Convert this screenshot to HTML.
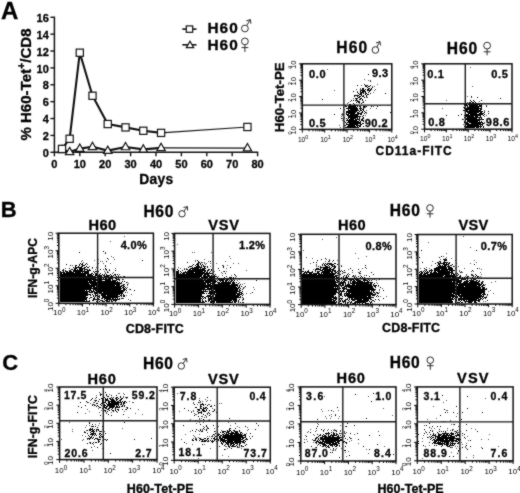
<!DOCTYPE html>
<html><head><meta charset="utf-8"><style>
html,body{margin:0;padding:0;background:#fff;overflow:hidden;}
svg{display:block;}
text{font-family:"Liberation Sans", sans-serif;fill:#000;}
text[font-weight="bold"]{stroke:#000;stroke-width:0.3px;}
</style></head><body>
<svg width="520" height="493" viewBox="0 0 520 493">
<defs><filter id="soft"><feOffset dx="0" dy="0"/></filter><filter id="glob" x="0" y="0" width="520" height="493" filterUnits="userSpaceOnUse" color-interpolation-filters="sRGB"><feConvolveMatrix order="3" kernelMatrix="1 2 1 2 16 2 1 2 1" divisor="28" edgeMode="duplicate"/></filter></defs>
<g filter="url(#glob)">
<rect width="520" height="493" fill="#fff"/>
<text x="0.89" y="18.7" font-size="24" font-weight="bold" textLength="18.77" lengthAdjust="spacing">A</text>
<line x1="54.4" y1="16.660000000000018" x2="54.4" y2="152.9" stroke="#111" stroke-width="1.5"/>
<line x1="53.8" y1="152.3" x2="258.2" y2="152.3" stroke="#111" stroke-width="1.5"/>
<line x1="50.4" y1="152.3" x2="54.4" y2="152.3" stroke="#111" stroke-width="1.4"/>
<text x="48.8" y="156.9" font-size="11" font-weight="bold" text-anchor="end">0</text>
<line x1="50.4" y1="135.42000000000002" x2="54.4" y2="135.42000000000002" stroke="#111" stroke-width="1.4"/>
<text x="48.8" y="140.02" font-size="11" font-weight="bold" text-anchor="end">2</text>
<line x1="50.4" y1="118.54000000000002" x2="54.4" y2="118.54000000000002" stroke="#111" stroke-width="1.4"/>
<text x="48.8" y="123.14000000000001" font-size="11" font-weight="bold" text-anchor="end">4</text>
<line x1="50.4" y1="101.66000000000001" x2="54.4" y2="101.66000000000001" stroke="#111" stroke-width="1.4"/>
<text x="48.8" y="106.26" font-size="11" font-weight="bold" text-anchor="end">6</text>
<line x1="50.4" y1="84.78000000000002" x2="54.4" y2="84.78000000000002" stroke="#111" stroke-width="1.4"/>
<text x="48.8" y="89.38000000000001" font-size="11" font-weight="bold" text-anchor="end">8</text>
<line x1="50.4" y1="67.90000000000002" x2="54.4" y2="67.90000000000002" stroke="#111" stroke-width="1.4"/>
<text x="48.8" y="72.50000000000001" font-size="11" font-weight="bold" text-anchor="end">10</text>
<line x1="50.4" y1="51.02000000000001" x2="54.4" y2="51.02000000000001" stroke="#111" stroke-width="1.4"/>
<text x="48.8" y="55.62000000000001" font-size="11" font-weight="bold" text-anchor="end">12</text>
<line x1="50.4" y1="34.140000000000015" x2="54.4" y2="34.140000000000015" stroke="#111" stroke-width="1.4"/>
<text x="48.8" y="38.740000000000016" font-size="11" font-weight="bold" text-anchor="end">14</text>
<line x1="50.4" y1="17.26000000000002" x2="54.4" y2="17.26000000000002" stroke="#111" stroke-width="1.4"/>
<text x="48.8" y="21.86000000000002" font-size="11" font-weight="bold" text-anchor="end">16</text>
<line x1="54.4" y1="152.3" x2="54.4" y2="156.3" stroke="#111" stroke-width="1.4"/>
<text x="54.4" y="168.3" font-size="11" font-weight="bold" text-anchor="middle">0</text>
<line x1="79.8" y1="152.3" x2="79.8" y2="156.3" stroke="#111" stroke-width="1.4"/>
<text x="79.8" y="168.3" font-size="11" font-weight="bold" text-anchor="middle">10</text>
<line x1="105.19999999999999" y1="152.3" x2="105.19999999999999" y2="156.3" stroke="#111" stroke-width="1.4"/>
<text x="105.19999999999999" y="168.3" font-size="11" font-weight="bold" text-anchor="middle">20</text>
<line x1="130.6" y1="152.3" x2="130.6" y2="156.3" stroke="#111" stroke-width="1.4"/>
<text x="130.6" y="168.3" font-size="11" font-weight="bold" text-anchor="middle">30</text>
<line x1="156.0" y1="152.3" x2="156.0" y2="156.3" stroke="#111" stroke-width="1.4"/>
<text x="156.0" y="168.3" font-size="11" font-weight="bold" text-anchor="middle">40</text>
<line x1="181.4" y1="152.3" x2="181.4" y2="156.3" stroke="#111" stroke-width="1.4"/>
<text x="181.4" y="168.3" font-size="11" font-weight="bold" text-anchor="middle">50</text>
<line x1="206.8" y1="152.3" x2="206.8" y2="156.3" stroke="#111" stroke-width="1.4"/>
<text x="206.8" y="168.3" font-size="11" font-weight="bold" text-anchor="middle">60</text>
<line x1="232.20000000000002" y1="152.3" x2="232.20000000000002" y2="156.3" stroke="#111" stroke-width="1.4"/>
<text x="232.20000000000002" y="168.3" font-size="11" font-weight="bold" text-anchor="middle">70</text>
<line x1="257.59999999999997" y1="152.3" x2="257.59999999999997" y2="156.3" stroke="#111" stroke-width="1.4"/>
<text x="257.59999999999997" y="168.3" font-size="11" font-weight="bold" text-anchor="middle">80</text>
<text x="139.25" y="184" font-size="13.8" font-weight="bold" textLength="33.90" lengthAdjust="spacing">Days</text>
<text transform="translate(30.8 140.5) rotate(-90)" font-size="14" font-weight="bold" textLength="112" lengthAdjust="spacingAndGlyphs">% H60-Tet<tspan dy="-5.5" font-size="10">+</tspan><tspan dy="5.5">/CD8</tspan></text>
<polyline points="62.02,149.77 69.64,151.88 79.80,148.59 92.50,146.81 107.74,150.61 125.52,146.98 143.30,149.35 161.08,147.83" fill="none" stroke="#111" stroke-width="2.1" stroke-linejoin="round"/>
<polyline points="161.08,147.83 247.44,148.08" fill="none" stroke="#111" stroke-width="1.1" stroke-linejoin="round"/>
<polyline points="62.02,148.92 69.64,138.80 79.80,52.71 92.50,95.75 107.74,124.03 125.52,127.40 143.30,130.78 161.08,132.89" fill="none" stroke="#111" stroke-width="2.1" stroke-linejoin="round"/>
<polyline points="161.08,132.89 247.44,126.98" fill="none" stroke="#111" stroke-width="1.1" stroke-linejoin="round"/>
<path d="M62.019999999999996 145.24 L66.22 152.55 L57.82 152.55 Z" fill="#fff" stroke="#111" stroke-width="1.2"/>
<path d="M69.64 147.35 L73.84 154.66 L65.44 154.66 Z" fill="#fff" stroke="#111" stroke-width="1.2"/>
<path d="M79.8 144.06 L84.00 151.36 L75.60 151.36 Z" fill="#fff" stroke="#111" stroke-width="1.2"/>
<path d="M92.5 142.28 L96.70 149.59 L88.30 149.59 Z" fill="#fff" stroke="#111" stroke-width="1.2"/>
<path d="M107.74000000000001 146.08 L111.94 153.39 L103.54 153.39 Z" fill="#fff" stroke="#111" stroke-width="1.2"/>
<path d="M125.52000000000001 142.45 L129.72 149.76 L121.32 149.76 Z" fill="#fff" stroke="#111" stroke-width="1.2"/>
<path d="M143.3 144.82 L147.50 152.12 L139.10 152.12 Z" fill="#fff" stroke="#111" stroke-width="1.2"/>
<path d="M161.08 143.30 L165.28 150.60 L156.88 150.60 Z" fill="#fff" stroke="#111" stroke-width="1.2"/>
<path d="M247.44 143.55 L251.64 150.86 L243.24 150.86 Z" fill="#fff" stroke="#111" stroke-width="1.2"/>
<rect x="58.42" y="145.32" width="7.2" height="7.2" fill="#fff" stroke="#111" stroke-width="1.2"/>
<rect x="66.04" y="135.20" width="7.2" height="7.2" fill="#fff" stroke="#111" stroke-width="1.2"/>
<rect x="76.20" y="49.11" width="7.2" height="7.2" fill="#fff" stroke="#111" stroke-width="1.2"/>
<rect x="88.90" y="92.15" width="7.2" height="7.2" fill="#fff" stroke="#111" stroke-width="1.2"/>
<rect x="104.14" y="120.43" width="7.2" height="7.2" fill="#fff" stroke="#111" stroke-width="1.2"/>
<rect x="121.92" y="123.80" width="7.2" height="7.2" fill="#fff" stroke="#111" stroke-width="1.2"/>
<rect x="139.70" y="127.18" width="7.2" height="7.2" fill="#fff" stroke="#111" stroke-width="1.2"/>
<rect x="157.48" y="129.29" width="7.2" height="7.2" fill="#fff" stroke="#111" stroke-width="1.2"/>
<rect x="243.84" y="123.38" width="7.2" height="7.2" fill="#fff" stroke="#111" stroke-width="1.2"/>
<line x1="182.3" y1="29.1" x2="196.5" y2="29.1" stroke="#111" stroke-width="1.6"/>
<rect x="186.30" y="25.90" width="6.4" height="6.4" fill="#fff" stroke="#111" stroke-width="1.2"/>
<line x1="182.3" y1="44.8" x2="196.5" y2="44.8" stroke="#111" stroke-width="1.6"/>
<path d="M190 41.21 L193.70 47.65 L186.30 47.65 Z" fill="#fff" stroke="#111" stroke-width="1.2"/>
<text x="207.38" y="33.2" font-size="15.4" font-weight="bold" textLength="30.43" lengthAdjust="spacing">H60</text>
<text x="207.38" y="49.5" font-size="15.4" font-weight="bold" textLength="30.43" lengthAdjust="spacing">H60</text>
<circle cx="244.9" cy="28.5" r="3.4" fill="none" stroke="#2a2a2a" stroke-width="1.0"/>
<path d="M246.66 25.59L250.3 19.6M246.28 20.97L250.3 19.6L250.95 23.80" fill="none" stroke="#2a2a2a" stroke-width="1.0"/>
<circle cx="244.9" cy="41.4" r="3.4" fill="none" stroke="#2a2a2a" stroke-width="1.0"/>
<path d="M244.9 44.8L244.9 52.0M241.5 47.6L248.3 47.6" fill="none" stroke="#2a2a2a" stroke-width="1.0"/>
<g filter="url(#soft)">
<path d="M327 69h1v1h-1zM364 79h1v1h-1zM368 80h1v1h-1zM370 80h1v1h-1zM377 84h1v1h-1zM361 85h1v1h-1zM366 85h1v1h-1zM372 86h1v1h-1zM374 86h1v1h-1zM360 88h1v1h-1zM356 89h1v1h-1zM360 89h1v1h-1zM375 89h1v1h-1zM334 90h1v1h-1zM374 90h1v1h-1zM357 91h1v1h-1zM373 92h1v1h-1zM366 97h2v1h-2zM353 98h1v1h-1zM365 100h1v1h-1zM350 101h1v1h-1zM363 101h1v1h-1zM348 102h1v1h-1zM362 102h1v1h-1zM347 103h1v1h-1zM359 103h1v1h-1zM345 105h1v1h-1zM380 105h1v1h-1zM388 105h1v1h-1zM365 106h1v1h-1zM373 106h1v1h-1zM343 107h1v1h-1zM365 107h1v1h-1zM370 108h1v1h-1zM376 108h1v1h-1zM344 109h1v1h-1zM366 110h1v1h-1zM343 111h1v1h-1zM366 112h1v1h-1zM342 113h1v1h-1zM366 113h1v1h-1zM341 114h2v1h-2zM342 115h1v1h-1zM365 115h1v1h-1zM341 116h1v1h-1zM344 117h1v1h-1zM342 118h1v1h-1zM344 118h1v1h-1zM342 120h1v1h-1zM339 125h1v1h-1zM344 125h1v1h-1zM340 127h1v1h-1z" fill="#555"/>
<path d="M368 74h1v1h-1zM370 81h1v1h-1zM364 84h1v1h-1zM357 85h1v1h-1zM365 85h1v1h-1zM367 85h1v1h-1zM370 85h1v1h-1zM365 86h2v1h-2zM368 86h2v1h-2zM367 87h1v1h-1zM372 87h1v1h-1zM362 88h2v1h-2zM368 88h2v1h-2zM371 88h1v1h-1zM362 89h2v1h-2zM365 89h1v1h-1zM367 89h2v1h-2zM370 89h2v1h-2zM360 90h5v1h-5zM367 90h4v1h-4zM353 91h1v1h-1zM360 91h1v1h-1zM362 91h4v1h-4zM369 91h1v1h-1zM357 92h1v1h-1zM360 92h4v1h-4zM365 92h1v1h-1zM368 92h1v1h-1zM358 93h1v1h-1zM360 93h2v1h-2zM363 93h1v1h-1zM365 93h2v1h-2zM370 93h1v1h-1zM385 93h1v1h-1zM359 94h3v1h-3zM365 94h1v1h-1zM367 94h2v1h-2zM354 95h5v1h-5zM361 95h1v1h-1zM363 95h1v1h-1zM366 95h1v1h-1zM354 96h1v1h-1zM357 96h1v1h-1zM359 96h2v1h-2zM362 96h2v1h-2zM366 96h1v1h-1zM358 97h2v1h-2zM364 97h1v1h-1zM355 98h3v1h-3zM360 98h2v1h-2zM322 99h1v1h-1zM356 99h1v1h-1zM359 99h2v1h-2zM362 99h1v1h-1zM351 100h1v1h-1zM353 100h1v1h-1zM355 100h3v1h-3zM362 100h1v1h-1zM357 101h3v1h-3zM356 102h1v1h-1zM358 102h2v1h-2zM363 102h1v1h-1zM353 103h1v1h-1zM361 103h1v1h-1zM349 104h2v1h-2zM354 104h1v1h-1zM349 105h9v1h-9zM345 106h2v1h-2zM348 106h8v1h-8zM357 106h1v1h-1zM359 106h2v1h-2zM363 106h2v1h-2zM366 106h1v1h-1zM371 106h1v1h-1zM377 106h1v1h-1zM348 107h9v1h-9zM360 107h1v1h-1zM363 107h2v1h-2zM340 108h1v1h-1zM346 108h12v1h-12zM359 108h3v1h-3zM363 108h1v1h-1zM348 109h1v1h-1zM350 109h8v1h-8zM360 109h1v1h-1zM362 109h2v1h-2zM348 110h11v1h-11zM360 110h2v1h-2zM363 110h1v1h-1zM346 111h11v1h-11zM359 111h1v1h-1zM362 111h1v1h-1zM364 111h1v1h-1zM346 112h10v1h-10zM357 112h2v1h-2zM361 112h2v1h-2zM365 112h1v1h-1zM390 112h1v1h-1zM346 113h1v1h-1zM348 113h7v1h-7zM357 113h5v1h-5zM364 113h1v1h-1zM334 114h1v1h-1zM343 114h1v1h-1zM346 114h3v1h-3zM350 114h9v1h-9zM360 114h2v1h-2zM347 115h11v1h-11zM363 115h1v1h-1zM348 116h13v1h-13zM362 116h1v1h-1zM348 117h10v1h-10zM359 117h1v1h-1zM363 117h1v1h-1zM341 118h1v1h-1zM346 118h1v1h-1zM348 118h1v1h-1zM350 118h6v1h-6zM357 118h1v1h-1zM359 118h1v1h-1zM362 118h2v1h-2zM343 119h1v1h-1zM347 119h1v1h-1zM349 119h5v1h-5zM355 119h5v1h-5zM361 119h2v1h-2zM346 120h11v1h-11zM359 120h1v1h-1zM361 120h3v1h-3zM344 121h1v1h-1zM348 121h11v1h-11zM360 121h1v1h-1zM363 121h1v1h-1zM345 122h1v1h-1zM347 122h14v1h-14zM346 123h1v1h-1zM349 123h12v1h-12zM362 123h2v1h-2zM346 124h12v1h-12zM360 124h2v1h-2zM345 125h1v1h-1zM348 125h7v1h-7zM356 125h5v1h-5zM347 126h9v1h-9zM357 126h1v1h-1zM359 126h2v1h-2zM363 126h1v1h-1zM345 127h14v1h-14z" fill="#000"/>
</g>
<g filter="url(#soft)">
<path d="M470 67h1v1h-1zM472 86h1v1h-1zM467 96h1v1h-1zM471 97h1v1h-1zM446 100h1v1h-1zM479 101h1v1h-1zM467 102h1v1h-1zM486 105h1v1h-1zM463 107h1v1h-1zM442 108h1v1h-1zM484 110h1v1h-1zM484 111h1v1h-1zM486 115h1v1h-1zM484 116h1v1h-1zM463 119h1v1h-1zM484 122h1v1h-1zM484 123h1v1h-1zM463 124h1v1h-1z" fill="#555"/>
<path d="M471 96h1v1h-1zM477 97h1v1h-1zM500 98h1v1h-1zM470 100h1v1h-1zM473 100h1v1h-1zM481 100h1v1h-1zM471 101h1v1h-1zM474 101h1v1h-1zM469 102h2v1h-2zM472 102h2v1h-2zM475 102h1v1h-1zM463 103h1v1h-1zM468 103h8v1h-8zM478 103h2v1h-2zM482 103h1v1h-1zM464 104h1v1h-1zM466 104h1v1h-1zM468 104h12v1h-12zM481 104h1v1h-1zM464 105h1v1h-1zM466 105h2v1h-2zM469 105h9v1h-9zM479 105h3v1h-3zM467 106h1v1h-1zM469 106h13v1h-13zM486 106h1v1h-1zM464 107h2v1h-2zM467 107h12v1h-12zM481 107h1v1h-1zM464 108h1v1h-1zM466 108h16v1h-16zM466 109h13v1h-13zM480 109h2v1h-2zM463 110h2v1h-2zM466 110h2v1h-2zM469 110h12v1h-12zM465 111h18v1h-18zM488 111h1v1h-1zM467 112h12v1h-12zM480 112h2v1h-2zM484 112h1v1h-1zM468 113h9v1h-9zM479 113h5v1h-5zM488 113h1v1h-1zM461 114h1v1h-1zM465 114h4v1h-4zM470 114h13v1h-13zM484 114h1v1h-1zM446 115h1v1h-1zM458 115h1v1h-1zM464 115h1v1h-1zM466 115h15v1h-15zM483 115h1v1h-1zM466 116h8v1h-8zM475 116h3v1h-3zM480 116h1v1h-1zM464 117h2v1h-2zM467 117h15v1h-15zM466 118h11v1h-11zM479 118h1v1h-1zM481 118h1v1h-1zM462 119h1v1h-1zM465 119h19v1h-19zM465 120h1v1h-1zM467 120h13v1h-13zM464 121h1v1h-1zM467 121h11v1h-11zM479 121h1v1h-1zM481 121h1v1h-1zM464 122h1v1h-1zM466 122h2v1h-2zM469 122h14v1h-14zM465 123h4v1h-4zM471 123h10v1h-10zM482 123h2v1h-2zM466 124h17v1h-17zM467 125h12v1h-12zM480 125h1v1h-1zM482 125h1v1h-1zM464 126h1v1h-1zM466 126h16v1h-16zM483 126h1v1h-1zM465 127h10v1h-10zM476 127h3v1h-3zM480 127h1v1h-1zM483 127h1v1h-1z" fill="#000"/>
</g>
<g filter="url(#soft)">
<path d="M124 236h1v1h-1zM110 241h1v1h-1zM105 252h1v1h-1zM111 256h1v1h-1zM113 257h1v1h-1zM98 259h1v1h-1zM108 259h1v1h-1zM114 259h1v1h-1zM82 260h1v1h-1zM94 260h1v1h-1zM81 261h1v1h-1zM100 261h1v1h-1zM102 261h1v1h-1zM83 262h1v1h-1zM98 263h1v1h-1zM103 263h1v1h-1zM110 263h1v1h-1zM87 264h1v1h-1zM72 265h1v1h-1zM105 265h1v1h-1zM89 266h1v1h-1zM96 267h1v1h-1zM65 268h1v1h-1zM92 268h1v1h-1zM115 268h1v1h-1zM95 269h1v1h-1zM103 269h1v1h-1zM105 269h1v1h-1zM109 269h1v1h-1zM106 270h1v1h-1zM104 271h1v1h-1zM107 271h1v1h-1zM105 272h1v1h-1zM108 272h1v1h-1zM113 272h1v1h-1zM105 273h1v1h-1zM112 273h1v1h-1zM119 274h1v1h-1zM118 275h1v1h-1zM120 276h1v1h-1zM123 276h1v1h-1zM121 277h1v1h-1zM123 279h1v1h-1zM127 282h1v1h-1zM128 283h1v1h-1zM127 285h1v1h-1zM127 287h1v1h-1zM129 289h1v1h-1zM127 292h1v1h-1zM131 294h1v1h-1zM126 295h1v1h-1zM123 298h1v1h-1zM128 299h1v1h-1z" fill="#555"/>
<path d="M103 251h1v1h-1zM79 252h1v1h-1zM105 253h1v1h-1zM107 258h1v1h-1zM142 260h1v1h-1zM106 261h1v1h-1zM80 263h1v1h-1zM82 263h1v1h-1zM86 263h1v1h-1zM66 264h1v1h-1zM79 264h1v1h-1zM81 264h2v1h-2zM85 264h1v1h-1zM70 265h1v1h-1zM75 265h2v1h-2zM79 265h1v1h-1zM82 265h3v1h-3zM75 266h1v1h-1zM78 266h1v1h-1zM81 266h2v1h-2zM86 266h1v1h-1zM105 266h1v1h-1zM73 267h1v1h-1zM75 267h7v1h-7zM84 267h2v1h-2zM87 267h2v1h-2zM92 267h1v1h-1zM69 268h1v1h-1zM74 268h3v1h-3zM79 268h6v1h-6zM105 268h1v1h-1zM63 269h1v1h-1zM71 269h2v1h-2zM74 269h2v1h-2zM77 269h1v1h-1zM79 269h4v1h-4zM84 269h4v1h-4zM89 269h1v1h-1zM100 269h1v1h-1zM106 269h1v1h-1zM62 270h2v1h-2zM65 270h1v1h-1zM69 270h2v1h-2zM73 270h10v1h-10zM84 270h1v1h-1zM87 270h4v1h-4zM109 270h1v1h-1zM115 270h1v1h-1zM60 271h1v1h-1zM63 271h1v1h-1zM65 271h3v1h-3zM69 271h3v1h-3zM73 271h16v1h-16zM93 271h1v1h-1zM95 271h4v1h-4zM60 272h5v1h-5zM66 272h8v1h-8zM75 272h6v1h-6zM82 272h1v1h-1zM84 272h5v1h-5zM94 272h1v1h-1zM107 272h1v1h-1zM60 273h2v1h-2zM63 273h26v1h-26zM91 273h2v1h-2zM95 273h2v1h-2zM100 273h1v1h-1zM60 274h26v1h-26zM87 274h5v1h-5zM93 274h1v1h-1zM95 274h3v1h-3zM99 274h1v1h-1zM102 274h1v1h-1zM104 274h1v1h-1zM106 274h1v1h-1zM110 274h1v1h-1zM114 274h2v1h-2zM117 274h1v1h-1zM60 275h26v1h-26zM87 275h6v1h-6zM95 275h7v1h-7zM103 275h2v1h-2zM106 275h4v1h-4zM111 275h1v1h-1zM113 275h1v1h-1zM115 275h1v1h-1zM60 276h36v1h-36zM97 276h5v1h-5zM104 276h5v1h-5zM110 276h3v1h-3zM116 276h1v1h-1zM118 276h1v1h-1zM124 276h1v1h-1zM60 277h32v1h-32zM93 277h3v1h-3zM97 277h2v1h-2zM101 277h3v1h-3zM105 277h1v1h-1zM109 277h5v1h-5zM115 277h4v1h-4zM120 277h1v1h-1zM60 278h36v1h-36zM97 278h5v1h-5zM103 278h1v1h-1zM105 278h2v1h-2zM108 278h5v1h-5zM115 278h2v1h-2zM118 278h1v1h-1zM60 279h51v1h-51zM112 279h1v1h-1zM116 279h4v1h-4zM122 279h1v1h-1zM60 280h32v1h-32zM93 280h9v1h-9zM105 280h6v1h-6zM112 280h5v1h-5zM119 280h1v1h-1zM60 281h28v1h-28zM89 281h7v1h-7zM97 281h19v1h-19zM117 281h1v1h-1zM122 281h1v1h-1zM124 281h1v1h-1zM60 282h60v1h-60zM121 282h1v1h-1zM126 282h1v1h-1zM60 283h29v1h-29zM90 283h32v1h-32zM60 284h30v1h-30zM91 284h29v1h-29zM123 284h2v1h-2zM127 284h1v1h-1zM60 285h55v1h-55zM116 285h4v1h-4zM121 285h3v1h-3zM60 286h35v1h-35zM96 286h1v1h-1zM98 286h24v1h-24zM123 286h2v1h-2zM60 287h32v1h-32zM93 287h28v1h-28zM122 287h2v1h-2zM125 287h1v1h-1zM60 288h62v1h-62zM123 288h2v1h-2zM126 288h1v1h-1zM60 289h31v1h-31zM93 289h28v1h-28zM123 289h3v1h-3zM130 289h1v1h-1zM60 290h25v1h-25zM86 290h1v1h-1zM89 290h3v1h-3zM93 290h1v1h-1zM95 290h2v1h-2zM98 290h27v1h-27zM126 290h1v1h-1zM134 290h1v1h-1zM60 291h30v1h-30zM91 291h4v1h-4zM96 291h28v1h-28zM60 292h28v1h-28zM89 292h4v1h-4zM94 292h8v1h-8zM103 292h20v1h-20zM125 292h1v1h-1zM60 293h28v1h-28zM94 293h4v1h-4zM99 293h24v1h-24zM60 294h31v1h-31zM92 294h1v1h-1zM95 294h1v1h-1zM97 294h1v1h-1zM101 294h19v1h-19zM121 294h1v1h-1zM123 294h1v1h-1zM60 295h28v1h-28zM90 295h1v1h-1zM93 295h1v1h-1zM95 295h2v1h-2zM99 295h1v1h-1zM101 295h5v1h-5zM107 295h11v1h-11zM120 295h2v1h-2zM123 295h2v1h-2zM60 296h26v1h-26zM93 296h1v1h-1zM95 296h1v1h-1zM98 296h2v1h-2zM102 296h18v1h-18zM121 296h1v1h-1zM123 296h2v1h-2zM60 297h28v1h-28zM90 297h2v1h-2zM94 297h1v1h-1zM99 297h1v1h-1zM102 297h16v1h-16zM60 298h27v1h-27zM89 298h1v1h-1zM93 298h2v1h-2zM97 298h2v1h-2zM101 298h2v1h-2zM104 298h7v1h-7zM112 298h2v1h-2zM115 298h1v1h-1zM117 298h1v1h-1zM119 298h1v1h-1zM121 298h2v1h-2zM60 299h27v1h-27zM93 299h7v1h-7zM104 299h1v1h-1zM106 299h14v1h-14zM60 300h25v1h-25zM86 300h1v1h-1zM89 300h1v1h-1zM92 300h2v1h-2zM97 300h1v1h-1zM100 300h3v1h-3zM105 300h3v1h-3zM109 300h1v1h-1zM111 300h1v1h-1zM113 300h4v1h-4zM130 300h1v1h-1zM60 301h30v1h-30zM96 301h1v1h-1zM99 301h1v1h-1zM102 301h3v1h-3zM106 301h4v1h-4zM111 301h2v1h-2zM115 301h1v1h-1z" fill="#000"/>
</g>
<g filter="url(#soft)">
<path d="M177 244h1v1h-1zM192 252h1v1h-1zM194 252h1v1h-1zM211 252h1v1h-1zM229 256h1v1h-1zM230 258h1v1h-1zM204 259h1v1h-1zM195 260h1v1h-1zM195 261h1v1h-1zM208 261h1v1h-1zM225 261h1v1h-1zM202 262h1v1h-1zM204 262h1v1h-1zM204 263h1v1h-1zM206 263h1v1h-1zM210 263h1v1h-1zM216 263h1v1h-1zM233 263h1v1h-1zM238 263h1v1h-1zM205 264h1v1h-1zM222 265h2v1h-2zM227 265h1v1h-1zM210 266h1v1h-1zM178 267h1v1h-1zM180 268h1v1h-1zM184 268h1v1h-1zM186 268h1v1h-1zM226 268h1v1h-1zM219 270h1v1h-1zM246 270h1v1h-1zM214 271h1v1h-1zM223 271h1v1h-1zM226 271h1v1h-1zM221 272h1v1h-1zM222 273h1v1h-1zM222 275h1v1h-1zM231 275h1v1h-1zM218 276h1v1h-1zM236 276h1v1h-1zM235 277h1v1h-1zM239 279h1v1h-1zM237 280h1v1h-1zM239 282h1v1h-1zM244 283h1v1h-1zM242 284h1v1h-1zM243 287h2v1h-2zM253 287h1v1h-1zM254 289h1v1h-1zM246 293h1v1h-1zM250 293h1v1h-1zM243 294h1v1h-1zM242 299h1v1h-1zM242 300h1v1h-1z" fill="#555"/>
<path d="M197 260h1v1h-1zM198 261h1v1h-1zM210 261h1v1h-1zM187 262h1v1h-1zM198 262h2v1h-2zM201 262h1v1h-1zM197 263h2v1h-2zM200 263h1v1h-1zM193 264h1v1h-1zM196 264h3v1h-3zM200 264h1v1h-1zM202 264h1v1h-1zM192 265h1v1h-1zM195 265h1v1h-1zM197 265h2v1h-2zM201 265h1v1h-1zM203 265h1v1h-1zM189 266h3v1h-3zM196 266h4v1h-4zM201 266h1v1h-1zM203 266h3v1h-3zM207 266h1v1h-1zM223 266h1v1h-1zM188 267h1v1h-1zM192 267h1v1h-1zM194 267h8v1h-8zM204 267h1v1h-1zM207 267h1v1h-1zM223 267h1v1h-1zM230 267h1v1h-1zM190 268h9v1h-9zM200 268h1v1h-1zM202 268h4v1h-4zM218 268h1v1h-1zM177 269h1v1h-1zM184 269h1v1h-1zM186 269h2v1h-2zM189 269h2v1h-2zM192 269h13v1h-13zM208 269h2v1h-2zM211 269h1v1h-1zM178 270h1v1h-1zM182 270h1v1h-1zM188 270h18v1h-18zM207 270h2v1h-2zM211 270h1v1h-1zM176 271h3v1h-3zM180 271h1v1h-1zM185 271h1v1h-1zM187 271h16v1h-16zM204 271h2v1h-2zM207 271h1v1h-1zM210 271h1v1h-1zM224 271h1v1h-1zM176 272h3v1h-3zM181 272h1v1h-1zM183 272h11v1h-11zM195 272h10v1h-10zM206 272h2v1h-2zM209 272h1v1h-1zM176 273h3v1h-3zM180 273h1v1h-1zM182 273h3v1h-3zM186 273h27v1h-27zM225 273h1v1h-1zM176 274h27v1h-27zM204 274h5v1h-5zM213 274h1v1h-1zM215 274h1v1h-1zM234 274h1v1h-1zM176 275h26v1h-26zM203 275h3v1h-3zM207 275h3v1h-3zM211 275h1v1h-1zM214 275h1v1h-1zM235 275h1v1h-1zM176 276h26v1h-26zM203 276h14v1h-14zM226 276h1v1h-1zM176 277h24v1h-24zM201 277h7v1h-7zM209 277h6v1h-6zM217 277h1v1h-1zM224 277h1v1h-1zM229 277h3v1h-3zM233 277h1v1h-1zM176 278h33v1h-33zM210 278h3v1h-3zM215 278h2v1h-2zM220 278h2v1h-2zM223 278h1v1h-1zM225 278h1v1h-1zM228 278h1v1h-1zM230 278h1v1h-1zM233 278h2v1h-2zM176 279h27v1h-27zM204 279h2v1h-2zM207 279h8v1h-8zM218 279h7v1h-7zM226 279h3v1h-3zM230 279h2v1h-2zM233 279h1v1h-1zM176 280h40v1h-40zM217 280h1v1h-1zM219 280h5v1h-5zM225 280h3v1h-3zM229 280h1v1h-1zM231 280h2v1h-2zM234 280h1v1h-1zM256 280h1v1h-1zM176 281h28v1h-28zM205 281h12v1h-12zM220 281h1v1h-1zM222 281h2v1h-2zM225 281h2v1h-2zM228 281h1v1h-1zM230 281h2v1h-2zM233 281h1v1h-1zM176 282h35v1h-35zM212 282h4v1h-4zM217 282h3v1h-3zM221 282h10v1h-10zM232 282h3v1h-3zM236 282h1v1h-1zM176 283h30v1h-30zM207 283h2v1h-2zM210 283h5v1h-5zM218 283h13v1h-13zM232 283h3v1h-3zM238 283h1v1h-1zM176 284h30v1h-30zM207 284h4v1h-4zM212 284h18v1h-18zM231 284h7v1h-7zM240 284h1v1h-1zM176 285h62v1h-62zM239 285h1v1h-1zM176 286h60v1h-60zM237 286h1v1h-1zM239 286h1v1h-1zM241 286h1v1h-1zM245 286h1v1h-1zM176 287h33v1h-33zM210 287h27v1h-27zM238 287h2v1h-2zM176 288h29v1h-29zM207 288h32v1h-32zM240 288h1v1h-1zM243 288h1v1h-1zM176 289h36v1h-36zM213 289h25v1h-25zM239 289h1v1h-1zM242 289h1v1h-1zM176 290h26v1h-26zM203 290h1v1h-1zM205 290h1v1h-1zM209 290h1v1h-1zM211 290h3v1h-3zM215 290h23v1h-23zM239 290h2v1h-2zM176 291h32v1h-32zM209 291h31v1h-31zM242 291h1v1h-1zM176 292h28v1h-28zM209 292h28v1h-28zM239 292h3v1h-3zM252 292h1v1h-1zM176 293h29v1h-29zM206 293h1v1h-1zM208 293h7v1h-7zM216 293h24v1h-24zM241 293h2v1h-2zM176 294h26v1h-26zM210 294h2v1h-2zM213 294h23v1h-23zM237 294h5v1h-5zM176 295h26v1h-26zM207 295h4v1h-4zM212 295h2v1h-2zM215 295h25v1h-25zM242 295h1v1h-1zM176 296h28v1h-28zM206 296h8v1h-8zM215 296h24v1h-24zM240 296h1v1h-1zM176 297h25v1h-25zM202 297h1v1h-1zM204 297h2v1h-2zM208 297h1v1h-1zM210 297h2v1h-2zM213 297h28v1h-28zM242 297h1v1h-1zM176 298h26v1h-26zM203 298h1v1h-1zM205 298h1v1h-1zM208 298h29v1h-29zM243 298h1v1h-1zM176 299h25v1h-25zM202 299h1v1h-1zM208 299h4v1h-4zM213 299h24v1h-24zM239 299h1v1h-1zM243 299h1v1h-1zM176 300h25v1h-25zM202 300h1v1h-1zM205 300h1v1h-1zM208 300h2v1h-2zM211 300h21v1h-21zM233 300h4v1h-4zM238 300h1v1h-1zM176 301h25v1h-25zM202 301h2v1h-2zM205 301h2v1h-2zM208 301h1v1h-1zM210 301h5v1h-5zM216 301h15v1h-15zM232 301h1v1h-1zM234 301h3v1h-3zM238 301h1v1h-1zM176 302h29v1h-29zM210 302h5v1h-5zM216 302h17v1h-17zM234 302h2v1h-2zM238 302h1v1h-1zM240 302h1v1h-1zM242 302h2v1h-2z" fill="#000"/>
</g>
<g filter="url(#soft)">
<path d="M336 237h1v1h-1zM322 239h1v1h-1zM303 250h1v1h-1zM355 253h1v1h-1zM366 256h1v1h-1zM306 257h1v1h-1zM312 258h1v1h-1zM358 258h1v1h-1zM326 259h1v1h-1zM329 259h1v1h-1zM337 260h1v1h-1zM325 261h1v1h-1zM329 261h1v1h-1zM332 261h1v1h-1zM310 263h1v1h-1zM316 264h1v1h-1zM316 265h1v1h-1zM341 265h1v1h-1zM316 266h1v1h-1zM339 268h1v1h-1zM362 268h1v1h-1zM366 268h1v1h-1zM303 269h1v1h-1zM313 269h1v1h-1zM339 269h1v1h-1zM348 269h1v1h-1zM341 270h1v1h-1zM343 272h1v1h-1zM345 272h1v1h-1zM352 272h1v1h-1zM358 272h2v1h-2zM348 273h1v1h-1zM349 274h1v1h-1zM348 275h1v1h-1zM355 275h1v1h-1zM360 275h1v1h-1zM364 275h1v1h-1zM353 276h3v1h-3zM369 278h1v1h-1zM372 279h1v1h-1zM376 280h1v1h-1zM376 282h1v1h-1zM377 283h1v1h-1zM378 286h1v1h-1zM382 288h1v1h-1zM379 289h1v1h-1zM379 290h1v1h-1zM379 292h1v1h-1zM380 296h1v1h-1zM386 296h1v1h-1zM379 300h1v1h-1zM372 303h1v1h-1z" fill="#555"/>
<path d="M325 258h1v1h-1zM321 259h1v1h-1zM317 260h1v1h-1zM329 260h1v1h-1zM333 260h1v1h-1zM328 261h1v1h-1zM313 262h1v1h-1zM316 262h1v1h-1zM323 263h1v1h-1zM325 263h1v1h-1zM327 263h5v1h-5zM334 263h2v1h-2zM322 264h1v1h-1zM324 264h1v1h-1zM326 264h2v1h-2zM329 264h5v1h-5zM337 264h1v1h-1zM322 265h1v1h-1zM324 265h2v1h-2zM328 265h1v1h-1zM331 265h2v1h-2zM334 265h1v1h-1zM365 265h1v1h-1zM318 266h1v1h-1zM320 266h1v1h-1zM325 266h3v1h-3zM329 266h1v1h-1zM332 266h4v1h-4zM341 266h1v1h-1zM320 267h10v1h-10zM331 267h1v1h-1zM334 267h2v1h-2zM365 267h1v1h-1zM303 268h1v1h-1zM316 268h3v1h-3zM320 268h1v1h-1zM323 268h5v1h-5zM329 268h2v1h-2zM333 268h2v1h-2zM350 268h1v1h-1zM315 269h6v1h-6zM322 269h12v1h-12zM358 269h1v1h-1zM308 270h1v1h-1zM315 270h1v1h-1zM320 270h3v1h-3zM324 270h7v1h-7zM332 270h4v1h-4zM338 270h2v1h-2zM344 270h1v1h-1zM352 270h1v1h-1zM302 271h2v1h-2zM305 271h1v1h-1zM307 271h2v1h-2zM312 271h1v1h-1zM315 271h1v1h-1zM317 271h3v1h-3zM322 271h11v1h-11zM334 271h2v1h-2zM337 271h1v1h-1zM340 271h1v1h-1zM342 271h1v1h-1zM360 271h1v1h-1zM304 272h9v1h-9zM317 272h2v1h-2zM321 272h9v1h-9zM331 272h2v1h-2zM335 272h2v1h-2zM338 272h1v1h-1zM344 272h1v1h-1zM371 272h1v1h-1zM303 273h2v1h-2zM306 273h1v1h-1zM309 273h3v1h-3zM313 273h7v1h-7zM321 273h1v1h-1zM323 273h13v1h-13zM337 273h2v1h-2zM342 273h1v1h-1zM359 273h2v1h-2zM302 274h15v1h-15zM318 274h17v1h-17zM339 274h2v1h-2zM347 274h1v1h-1zM373 274h1v1h-1zM302 275h32v1h-32zM335 275h3v1h-3zM344 275h1v1h-1zM346 275h1v1h-1zM353 275h1v1h-1zM366 275h1v1h-1zM302 276h35v1h-35zM343 276h1v1h-1zM346 276h1v1h-1zM348 276h1v1h-1zM352 276h1v1h-1zM358 276h1v1h-1zM361 276h1v1h-1zM369 276h1v1h-1zM302 277h33v1h-33zM336 277h3v1h-3zM341 277h1v1h-1zM343 277h1v1h-1zM345 277h3v1h-3zM354 277h1v1h-1zM356 277h1v1h-1zM360 277h1v1h-1zM362 277h1v1h-1zM364 277h1v1h-1zM302 278h37v1h-37zM343 278h1v1h-1zM345 278h1v1h-1zM347 278h2v1h-2zM350 278h1v1h-1zM353 278h1v1h-1zM357 278h2v1h-2zM360 278h1v1h-1zM363 278h1v1h-1zM365 278h1v1h-1zM367 278h1v1h-1zM302 279h33v1h-33zM336 279h1v1h-1zM338 279h2v1h-2zM343 279h3v1h-3zM348 279h6v1h-6zM355 279h4v1h-4zM363 279h3v1h-3zM368 279h1v1h-1zM374 279h1v1h-1zM379 279h1v1h-1zM302 280h33v1h-33zM336 280h2v1h-2zM342 280h1v1h-1zM344 280h3v1h-3zM350 280h2v1h-2zM353 280h2v1h-2zM356 280h5v1h-5zM363 280h5v1h-5zM369 280h1v1h-1zM371 280h1v1h-1zM302 281h34v1h-34zM337 281h3v1h-3zM341 281h1v1h-1zM343 281h2v1h-2zM348 281h1v1h-1zM350 281h1v1h-1zM352 281h4v1h-4zM357 281h6v1h-6zM364 281h1v1h-1zM367 281h2v1h-2zM302 282h36v1h-36zM340 282h6v1h-6zM348 282h1v1h-1zM350 282h1v1h-1zM352 282h21v1h-21zM302 283h34v1h-34zM339 283h5v1h-5zM345 283h1v1h-1zM348 283h1v1h-1zM350 283h19v1h-19zM370 283h2v1h-2zM374 283h1v1h-1zM302 284h35v1h-35zM338 284h3v1h-3zM342 284h2v1h-2zM345 284h1v1h-1zM347 284h3v1h-3zM352 284h3v1h-3zM356 284h16v1h-16zM373 284h1v1h-1zM302 285h37v1h-37zM340 285h4v1h-4zM345 285h27v1h-27zM373 285h4v1h-4zM378 285h1v1h-1zM302 286h37v1h-37zM341 286h1v1h-1zM344 286h29v1h-29zM374 286h2v1h-2zM302 287h32v1h-32zM335 287h1v1h-1zM337 287h1v1h-1zM339 287h1v1h-1zM342 287h3v1h-3zM346 287h1v1h-1zM348 287h25v1h-25zM375 287h1v1h-1zM380 287h1v1h-1zM302 288h39v1h-39zM342 288h5v1h-5zM350 288h24v1h-24zM302 289h37v1h-37zM343 289h2v1h-2zM346 289h30v1h-30zM302 290h35v1h-35zM338 290h1v1h-1zM340 290h1v1h-1zM342 290h2v1h-2zM347 290h23v1h-23zM371 290h4v1h-4zM383 290h1v1h-1zM302 291h35v1h-35zM339 291h6v1h-6zM346 291h24v1h-24zM371 291h1v1h-1zM373 291h1v1h-1zM302 292h38v1h-38zM341 292h1v1h-1zM346 292h1v1h-1zM348 292h24v1h-24zM373 292h2v1h-2zM376 292h2v1h-2zM302 293h34v1h-34zM338 293h1v1h-1zM340 293h2v1h-2zM344 293h6v1h-6zM351 293h22v1h-22zM375 293h1v1h-1zM377 293h2v1h-2zM302 294h34v1h-34zM339 294h3v1h-3zM344 294h1v1h-1zM346 294h30v1h-30zM302 295h32v1h-32zM340 295h2v1h-2zM344 295h27v1h-27zM372 295h3v1h-3zM377 295h1v1h-1zM302 296h32v1h-32zM335 296h1v1h-1zM339 296h1v1h-1zM342 296h1v1h-1zM345 296h1v1h-1zM347 296h20v1h-20zM368 296h3v1h-3zM376 296h1v1h-1zM378 296h1v1h-1zM302 297h35v1h-35zM348 297h26v1h-26zM302 298h30v1h-30zM333 298h4v1h-4zM339 298h4v1h-4zM347 298h1v1h-1zM349 298h1v1h-1zM351 298h2v1h-2zM354 298h17v1h-17zM383 298h1v1h-1zM302 299h32v1h-32zM335 299h2v1h-2zM339 299h1v1h-1zM341 299h1v1h-1zM345 299h3v1h-3zM349 299h1v1h-1zM351 299h11v1h-11zM363 299h6v1h-6zM370 299h2v1h-2zM375 299h1v1h-1zM378 299h1v1h-1zM302 300h30v1h-30zM333 300h3v1h-3zM340 300h1v1h-1zM342 300h1v1h-1zM344 300h2v1h-2zM348 300h1v1h-1zM352 300h3v1h-3zM357 300h12v1h-12zM372 300h2v1h-2zM302 301h33v1h-33zM336 301h1v1h-1zM339 301h2v1h-2zM342 301h4v1h-4zM349 301h1v1h-1zM351 301h1v1h-1zM355 301h13v1h-13zM369 301h1v1h-1zM371 301h1v1h-1zM374 301h1v1h-1zM302 302h35v1h-35zM338 302h1v1h-1zM343 302h1v1h-1zM345 302h1v1h-1zM347 302h2v1h-2zM350 302h2v1h-2zM354 302h12v1h-12zM370 302h2v1h-2zM302 303h34v1h-34zM338 303h1v1h-1zM340 303h2v1h-2zM345 303h1v1h-1zM347 303h1v1h-1zM350 303h1v1h-1zM352 303h4v1h-4zM357 303h1v1h-1zM359 303h1v1h-1zM362 303h1v1h-1zM365 303h4v1h-4zM370 303h1v1h-1z" fill="#000"/>
</g>
<g filter="url(#soft)">
<path d="M463 236h1v1h-1zM428 242h1v1h-1zM470 247h1v1h-1zM446 253h1v1h-1zM443 256h1v1h-1zM446 257h1v1h-1zM445 258h1v1h-1zM451 258h1v1h-1zM440 259h1v1h-1zM455 260h1v1h-1zM474 260h1v1h-1zM432 261h1v1h-1zM476 262h1v1h-1zM470 263h1v1h-1zM431 265h1v1h-1zM454 266h1v1h-1zM458 266h1v1h-1zM426 267h1v1h-1zM456 267h1v1h-1zM420 268h1v1h-1zM429 268h1v1h-1zM455 268h1v1h-1zM464 268h1v1h-1zM479 268h1v1h-1zM425 269h1v1h-1zM481 269h1v1h-1zM459 270h1v1h-1zM459 271h1v1h-1zM461 271h1v1h-1zM471 271h1v1h-1zM473 271h1v1h-1zM461 272h2v1h-2zM480 272h1v1h-1zM466 274h1v1h-1zM472 274h1v1h-1zM481 274h1v1h-1zM466 275h1v1h-1zM471 275h1v1h-1zM473 275h1v1h-1zM465 276h1v1h-1zM480 276h1v1h-1zM479 277h1v1h-1zM481 277h1v1h-1zM483 281h1v1h-1zM495 281h1v1h-1zM491 282h1v1h-1zM485 284h1v1h-1zM490 290h1v1h-1zM488 291h1v1h-1zM493 293h1v1h-1zM487 295h1v1h-1zM486 296h1v1h-1zM483 301h1v1h-1zM485 301h1v1h-1z" fill="#555"/>
<path d="M421 250h1v1h-1zM476 250h1v1h-1zM441 256h1v1h-1zM419 257h1v1h-1zM439 257h1v1h-1zM443 259h4v1h-4zM444 260h3v1h-3zM439 261h2v1h-2zM444 261h1v1h-1zM422 262h1v1h-1zM437 262h2v1h-2zM440 262h1v1h-1zM443 262h5v1h-5zM449 262h1v1h-1zM435 263h1v1h-1zM438 263h7v1h-7zM446 263h1v1h-1zM448 263h2v1h-2zM456 263h1v1h-1zM438 264h2v1h-2zM443 264h6v1h-6zM452 264h1v1h-1zM474 264h1v1h-1zM437 265h1v1h-1zM439 265h2v1h-2zM442 265h1v1h-1zM444 265h3v1h-3zM448 265h1v1h-1zM450 265h2v1h-2zM438 266h8v1h-8zM447 266h3v1h-3zM453 266h1v1h-1zM436 267h11v1h-11zM448 267h4v1h-4zM424 268h1v1h-1zM434 268h13v1h-13zM448 268h5v1h-5zM477 268h1v1h-1zM426 269h1v1h-1zM431 269h1v1h-1zM434 269h6v1h-6zM441 269h12v1h-12zM424 270h1v1h-1zM426 270h1v1h-1zM429 270h4v1h-4zM434 270h14v1h-14zM449 270h6v1h-6zM472 270h1v1h-1zM420 271h2v1h-2zM423 271h1v1h-1zM425 271h1v1h-1zM427 271h1v1h-1zM429 271h1v1h-1zM431 271h1v1h-1zM434 271h2v1h-2zM437 271h13v1h-13zM451 271h2v1h-2zM419 272h1v1h-1zM421 272h2v1h-2zM424 272h1v1h-1zM426 272h3v1h-3zM430 272h2v1h-2zM433 272h4v1h-4zM438 272h15v1h-15zM460 272h1v1h-1zM420 273h3v1h-3zM424 273h4v1h-4zM430 273h20v1h-20zM451 273h3v1h-3zM455 273h1v1h-1zM457 273h1v1h-1zM419 274h3v1h-3zM423 274h3v1h-3zM427 274h23v1h-23zM451 274h1v1h-1zM453 274h2v1h-2zM458 274h1v1h-1zM471 274h1v1h-1zM475 274h1v1h-1zM419 275h25v1h-25zM445 275h10v1h-10zM456 275h2v1h-2zM460 275h1v1h-1zM472 275h1v1h-1zM476 275h1v1h-1zM419 276h24v1h-24zM444 276h12v1h-12zM459 276h2v1h-2zM467 276h2v1h-2zM473 276h1v1h-1zM475 276h1v1h-1zM477 276h2v1h-2zM419 277h32v1h-32zM452 277h9v1h-9zM462 277h1v1h-1zM464 277h1v1h-1zM466 277h2v1h-2zM472 277h1v1h-1zM477 277h1v1h-1zM419 278h41v1h-41zM461 278h2v1h-2zM466 278h1v1h-1zM468 278h1v1h-1zM470 278h4v1h-4zM475 278h1v1h-1zM477 278h1v1h-1zM419 279h40v1h-40zM461 279h5v1h-5zM467 279h1v1h-1zM471 279h1v1h-1zM473 279h3v1h-3zM419 280h43v1h-43zM466 280h2v1h-2zM469 280h5v1h-5zM476 280h2v1h-2zM479 280h1v1h-1zM419 281h33v1h-33zM453 281h2v1h-2zM456 281h6v1h-6zM464 281h5v1h-5zM470 281h7v1h-7zM478 281h2v1h-2zM482 281h1v1h-1zM419 282h36v1h-36zM456 282h5v1h-5zM463 282h5v1h-5zM469 282h10v1h-10zM481 282h2v1h-2zM419 283h39v1h-39zM459 283h21v1h-21zM481 283h2v1h-2zM419 284h36v1h-36zM456 284h26v1h-26zM483 284h1v1h-1zM419 285h36v1h-36zM456 285h1v1h-1zM458 285h19v1h-19zM478 285h3v1h-3zM482 285h3v1h-3zM419 286h45v1h-45zM465 286h15v1h-15zM481 286h2v1h-2zM419 287h62v1h-62zM482 287h3v1h-3zM419 288h36v1h-36zM456 288h25v1h-25zM482 288h3v1h-3zM486 288h1v1h-1zM419 289h68v1h-68zM419 290h66v1h-66zM419 291h36v1h-36zM456 291h29v1h-29zM419 292h66v1h-66zM419 293h33v1h-33zM453 293h29v1h-29zM483 293h2v1h-2zM419 294h35v1h-35zM455 294h5v1h-5zM461 294h20v1h-20zM482 294h4v1h-4zM487 294h1v1h-1zM419 295h36v1h-36zM456 295h1v1h-1zM458 295h24v1h-24zM483 295h1v1h-1zM419 296h39v1h-39zM459 296h25v1h-25zM419 297h32v1h-32zM452 297h2v1h-2zM455 297h3v1h-3zM460 297h2v1h-2zM463 297h18v1h-18zM482 297h1v1h-1zM484 297h3v1h-3zM419 298h34v1h-34zM454 298h1v1h-1zM456 298h1v1h-1zM458 298h21v1h-21zM480 298h2v1h-2zM483 298h1v1h-1zM485 298h1v1h-1zM419 299h35v1h-35zM455 299h2v1h-2zM458 299h19v1h-19zM478 299h3v1h-3zM482 299h1v1h-1zM419 300h33v1h-33zM455 300h2v1h-2zM458 300h2v1h-2zM461 300h1v1h-1zM463 300h2v1h-2zM466 300h1v1h-1zM468 300h12v1h-12zM487 300h1v1h-1zM419 301h34v1h-34zM455 301h1v1h-1zM460 301h1v1h-1zM464 301h9v1h-9zM474 301h2v1h-2zM478 301h2v1h-2zM419 302h34v1h-34zM455 302h1v1h-1zM457 302h3v1h-3zM461 302h2v1h-2zM465 302h1v1h-1zM468 302h4v1h-4zM474 302h3v1h-3z" fill="#000"/>
</g>
<g filter="url(#soft)">
<path d="M99 392h1v1h-1zM103 392h1v1h-1zM100 393h1v1h-1zM118 393h2v1h-2zM123 393h1v1h-1zM109 394h1v1h-1zM124 394h1v1h-1zM96 395h1v1h-1zM103 396h1v1h-1zM123 396h1v1h-1zM123 397h1v1h-1zM125 397h1v1h-1zM95 398h1v1h-1zM126 398h1v1h-1zM90 400h1v1h-1zM94 400h1v1h-1zM95 401h1v1h-1zM129 401h1v1h-1zM88 402h1v1h-1zM93 402h2v1h-2zM132 402h2v1h-2zM90 403h1v1h-1zM92 404h3v1h-3zM95 405h1v1h-1zM126 407h1v1h-1zM98 408h1v1h-1zM87 409h1v1h-1zM125 409h1v1h-1zM138 409h1v1h-1zM101 410h1v1h-1zM89 411h1v1h-1zM124 411h1v1h-1zM99 412h1v1h-1zM103 412h1v1h-1zM106 412h1v1h-1zM111 412h1v1h-1zM117 412h1v1h-1zM85 413h1v1h-1zM106 413h1v1h-1zM135 413h1v1h-1zM142 414h1v1h-1zM128 417h1v1h-1zM103 419h1v1h-1zM62 420h1v1h-1zM147 420h1v1h-1zM69 422h1v1h-1zM99 423h1v1h-1zM95 424h1v1h-1zM86 425h1v1h-1zM89 425h1v1h-1zM98 425h1v1h-1zM85 427h1v1h-1zM122 428h1v1h-1zM72 429h1v1h-1zM102 429h1v1h-1zM86 430h1v1h-1zM103 430h1v1h-1zM72 431h1v1h-1zM84 431h1v1h-1zM104 431h1v1h-1zM82 435h1v1h-1zM85 436h1v1h-1zM61 439h1v1h-1zM83 439h1v1h-1zM87 439h1v1h-1zM104 439h1v1h-1zM82 440h1v1h-1zM102 440h1v1h-1zM89 442h1v1h-1zM93 444h1v1h-1zM94 446h1v1h-1zM102 448h1v1h-1zM92 450h1v1h-1z" fill="#555"/>
<path d="M105 392h1v1h-1zM100 394h2v1h-2zM106 394h1v1h-1zM100 395h1v1h-1zM106 395h1v1h-1zM111 395h1v1h-1zM116 395h1v1h-1zM107 396h2v1h-2zM120 396h1v1h-1zM96 397h1v1h-1zM104 397h1v1h-1zM111 397h1v1h-1zM113 397h1v1h-1zM116 397h2v1h-2zM120 397h1v1h-1zM126 397h2v1h-2zM92 398h1v1h-1zM101 398h2v1h-2zM105 398h1v1h-1zM107 398h1v1h-1zM109 398h2v1h-2zM112 398h1v1h-1zM115 398h2v1h-2zM118 398h1v1h-1zM121 398h2v1h-2zM91 399h1v1h-1zM99 399h1v1h-1zM102 399h1v1h-1zM105 399h3v1h-3zM110 399h4v1h-4zM116 399h2v1h-2zM120 399h2v1h-2zM95 400h2v1h-2zM102 400h2v1h-2zM105 400h4v1h-4zM111 400h4v1h-4zM116 400h1v1h-1zM119 400h2v1h-2zM86 401h1v1h-1zM98 401h1v1h-1zM102 401h2v1h-2zM105 401h1v1h-1zM108 401h8v1h-8zM117 401h2v1h-2zM120 401h1v1h-1zM122 401h1v1h-1zM124 401h2v1h-2zM80 402h1v1h-1zM87 402h1v1h-1zM102 402h1v1h-1zM104 402h2v1h-2zM108 402h2v1h-2zM111 402h11v1h-11zM123 402h2v1h-2zM126 402h1v1h-1zM96 403h2v1h-2zM101 403h3v1h-3zM106 403h1v1h-1zM108 403h11v1h-11zM121 403h1v1h-1zM123 403h2v1h-2zM100 404h1v1h-1zM103 404h2v1h-2zM107 404h12v1h-12zM120 404h2v1h-2zM123 404h1v1h-1zM85 405h1v1h-1zM92 405h1v1h-1zM94 405h1v1h-1zM97 405h1v1h-1zM101 405h1v1h-1zM103 405h3v1h-3zM107 405h8v1h-8zM116 405h1v1h-1zM118 405h1v1h-1zM122 405h1v1h-1zM124 405h1v1h-1zM78 406h1v1h-1zM96 406h1v1h-1zM98 406h1v1h-1zM104 406h1v1h-1zM106 406h2v1h-2zM109 406h6v1h-6zM116 406h2v1h-2zM119 406h1v1h-1zM121 406h2v1h-2zM124 406h1v1h-1zM81 407h1v1h-1zM99 407h2v1h-2zM103 407h4v1h-4zM109 407h5v1h-5zM115 407h5v1h-5zM127 407h1v1h-1zM102 408h1v1h-1zM105 408h2v1h-2zM108 408h2v1h-2zM112 408h1v1h-1zM115 408h1v1h-1zM127 408h1v1h-1zM130 408h1v1h-1zM103 409h1v1h-1zM107 409h2v1h-2zM111 409h1v1h-1zM115 409h1v1h-1zM117 409h2v1h-2zM122 409h1v1h-1zM126 409h1v1h-1zM103 410h3v1h-3zM109 410h1v1h-1zM112 410h2v1h-2zM115 410h1v1h-1zM118 410h1v1h-1zM105 411h1v1h-1zM107 411h1v1h-1zM113 411h1v1h-1zM116 411h1v1h-1zM77 412h1v1h-1zM108 414h1v1h-1zM123 414h1v1h-1zM100 415h1v1h-1zM111 415h1v1h-1zM89 422h1v1h-1zM124 422h1v1h-1zM89 423h1v1h-1zM92 424h1v1h-1zM91 426h3v1h-3zM95 426h1v1h-1zM102 426h1v1h-1zM97 427h1v1h-1zM90 428h1v1h-1zM92 428h1v1h-1zM89 429h4v1h-4zM94 429h1v1h-1zM96 429h3v1h-3zM87 430h1v1h-1zM89 430h2v1h-2zM92 430h2v1h-2zM96 430h1v1h-1zM98 430h1v1h-1zM91 431h4v1h-4zM96 431h1v1h-1zM99 431h3v1h-3zM84 432h2v1h-2zM90 432h1v1h-1zM93 432h1v1h-1zM87 433h1v1h-1zM91 433h5v1h-5zM99 433h2v1h-2zM105 433h1v1h-1zM90 434h4v1h-4zM95 434h1v1h-1zM99 434h1v1h-1zM101 434h1v1h-1zM88 435h1v1h-1zM92 435h1v1h-1zM94 435h1v1h-1zM96 435h1v1h-1zM100 435h1v1h-1zM103 435h1v1h-1zM89 436h1v1h-1zM91 436h1v1h-1zM99 436h1v1h-1zM101 436h2v1h-2zM90 437h2v1h-2zM93 437h1v1h-1zM99 437h2v1h-2zM102 437h1v1h-1zM87 438h4v1h-4zM92 438h1v1h-1zM95 438h3v1h-3zM151 438h1v1h-1zM89 439h1v1h-1zM94 439h1v1h-1zM97 439h4v1h-4zM105 439h1v1h-1zM107 439h1v1h-1zM134 439h1v1h-1zM98 440h1v1h-1zM106 440h1v1h-1zM98 441h2v1h-2zM90 442h1v1h-1zM93 442h1v1h-1zM95 442h2v1h-2zM98 442h1v1h-1zM87 443h1v1h-1zM90 443h1v1h-1zM92 443h1v1h-1zM101 443h1v1h-1zM100 444h1v1h-1zM91 447h1v1h-1zM97 447h1v1h-1zM110 453h1v1h-1z" fill="#000"/>
</g>
<g filter="url(#soft)">
<path d="M177 393h1v1h-1zM199 398h1v1h-1zM205 399h1v1h-1zM207 400h1v1h-1zM210 400h1v1h-1zM200 401h1v1h-1zM202 401h1v1h-1zM206 401h1v1h-1zM193 402h1v1h-1zM199 402h2v1h-2zM193 403h1v1h-1zM219 403h1v1h-1zM221 403h1v1h-1zM197 404h1v1h-1zM208 404h2v1h-2zM211 405h1v1h-1zM212 408h1v1h-1zM193 410h1v1h-1zM179 411h1v1h-1zM191 411h1v1h-1zM193 411h1v1h-1zM212 411h1v1h-1zM191 412h1v1h-1zM194 413h1v1h-1zM195 414h2v1h-2zM207 414h1v1h-1zM210 414h1v1h-1zM201 416h2v1h-2zM206 416h1v1h-1zM204 417h1v1h-1zM206 417h1v1h-1zM199 418h1v1h-1zM201 418h1v1h-1zM190 419h1v1h-1zM199 419h1v1h-1zM209 419h1v1h-1zM189 420h1v1h-1zM200 420h1v1h-1zM204 420h1v1h-1zM209 420h1v1h-1zM197 421h1v1h-1zM199 422h1v1h-1zM203 422h1v1h-1zM228 422h1v1h-1zM196 423h1v1h-1zM230 425h1v1h-1zM203 426h1v1h-1zM217 426h2v1h-2zM237 426h1v1h-1zM204 427h1v1h-1zM239 427h1v1h-1zM247 427h1v1h-1zM207 428h1v1h-1zM214 428h1v1h-1zM229 428h1v1h-1zM202 429h1v1h-1zM204 429h1v1h-1zM248 429h1v1h-1zM198 430h1v1h-1zM202 430h1v1h-1zM221 430h1v1h-1zM247 430h1v1h-1zM190 431h1v1h-1zM199 431h1v1h-1zM215 431h1v1h-1zM207 432h1v1h-1zM218 433h1v1h-1zM246 433h1v1h-1zM185 434h1v1h-1zM199 434h1v1h-1zM214 434h1v1h-1zM193 435h1v1h-1zM212 435h1v1h-1zM214 435h1v1h-1zM194 436h1v1h-1zM207 436h1v1h-1zM209 436h1v1h-1zM211 436h1v1h-1zM249 436h1v1h-1zM195 437h1v1h-1zM198 437h1v1h-1zM193 438h1v1h-1zM195 438h2v1h-2zM181 439h1v1h-1zM186 443h1v1h-1zM217 443h1v1h-1zM244 443h1v1h-1zM192 444h1v1h-1zM204 444h1v1h-1zM225 446h2v1h-2zM239 446h1v1h-1zM242 446h1v1h-1zM238 447h2v1h-2zM210 448h1v1h-1zM227 448h1v1h-1zM241 448h1v1h-1zM225 449h1v1h-1zM222 455h1v1h-1zM228 456h1v1h-1zM198 458h1v1h-1z" fill="#555"/>
<path d="M207 397h1v1h-1zM199 400h1v1h-1zM198 402h1v1h-1zM202 403h1v1h-1zM194 404h1v1h-1zM200 404h4v1h-4zM205 404h1v1h-1zM200 405h1v1h-1zM203 405h1v1h-1zM207 405h1v1h-1zM214 405h1v1h-1zM200 406h2v1h-2zM210 406h2v1h-2zM195 407h2v1h-2zM200 407h1v1h-1zM203 407h1v1h-1zM205 407h2v1h-2zM184 408h1v1h-1zM200 408h2v1h-2zM203 408h3v1h-3zM207 408h1v1h-1zM197 409h3v1h-3zM202 409h2v1h-2zM206 409h1v1h-1zM214 409h1v1h-1zM188 410h1v1h-1zM198 410h2v1h-2zM202 410h3v1h-3zM206 410h1v1h-1zM209 410h1v1h-1zM214 410h1v1h-1zM197 411h1v1h-1zM201 411h1v1h-1zM203 411h3v1h-3zM213 411h1v1h-1zM198 412h4v1h-4zM208 412h1v1h-1zM216 412h1v1h-1zM198 413h1v1h-1zM201 413h1v1h-1zM207 413h1v1h-1zM209 413h1v1h-1zM203 414h1v1h-1zM194 415h1v1h-1zM205 415h1v1h-1zM209 415h1v1h-1zM198 416h1v1h-1zM229 418h1v1h-1zM203 419h1v1h-1zM195 420h1v1h-1zM208 420h1v1h-1zM219 421h1v1h-1zM235 423h1v1h-1zM256 423h1v1h-1zM200 424h1v1h-1zM183 425h1v1h-1zM206 425h1v1h-1zM213 425h1v1h-1zM258 425h1v1h-1zM206 426h1v1h-1zM245 426h1v1h-1zM207 427h1v1h-1zM203 428h1v1h-1zM208 428h1v1h-1zM230 428h1v1h-1zM235 428h1v1h-1zM196 429h1v1h-1zM200 429h1v1h-1zM206 429h1v1h-1zM229 429h1v1h-1zM255 429h1v1h-1zM192 430h1v1h-1zM200 430h1v1h-1zM206 430h1v1h-1zM227 430h1v1h-1zM229 430h2v1h-2zM233 430h2v1h-2zM239 430h1v1h-1zM195 431h1v1h-1zM201 431h2v1h-2zM214 431h1v1h-1zM222 431h4v1h-4zM227 431h3v1h-3zM231 431h1v1h-1zM234 431h4v1h-4zM239 431h1v1h-1zM220 432h1v1h-1zM222 432h2v1h-2zM226 432h3v1h-3zM231 432h3v1h-3zM235 432h3v1h-3zM240 432h2v1h-2zM215 433h1v1h-1zM224 433h1v1h-1zM226 433h1v1h-1zM228 433h11v1h-11zM240 433h1v1h-1zM242 433h1v1h-1zM250 433h1v1h-1zM213 434h1v1h-1zM218 434h2v1h-2zM222 434h2v1h-2zM225 434h4v1h-4zM230 434h3v1h-3zM234 434h8v1h-8zM244 434h2v1h-2zM217 435h2v1h-2zM220 435h2v1h-2zM223 435h23v1h-23zM212 436h1v1h-1zM215 436h2v1h-2zM219 436h2v1h-2zM222 436h21v1h-21zM245 436h1v1h-1zM252 436h1v1h-1zM214 437h1v1h-1zM219 437h2v1h-2zM222 437h24v1h-24zM199 438h2v1h-2zM204 438h2v1h-2zM207 438h2v1h-2zM211 438h1v1h-1zM213 438h2v1h-2zM216 438h1v1h-1zM219 438h4v1h-4zM224 438h17v1h-17zM242 438h2v1h-2zM246 438h1v1h-1zM250 438h1v1h-1zM192 439h1v1h-1zM195 439h2v1h-2zM200 439h4v1h-4zM207 439h1v1h-1zM214 439h3v1h-3zM218 439h1v1h-1zM220 439h5v1h-5zM227 439h16v1h-16zM245 439h3v1h-3zM192 440h2v1h-2zM196 440h1v1h-1zM199 440h1v1h-1zM202 440h1v1h-1zM204 440h3v1h-3zM208 440h1v1h-1zM210 440h1v1h-1zM212 440h1v1h-1zM214 440h1v1h-1zM218 440h1v1h-1zM220 440h21v1h-21zM243 440h2v1h-2zM201 441h5v1h-5zM207 441h2v1h-2zM211 441h3v1h-3zM216 441h1v1h-1zM220 441h1v1h-1zM222 441h4v1h-4zM227 441h6v1h-6zM234 441h10v1h-10zM245 441h1v1h-1zM184 442h1v1h-1zM212 442h1v1h-1zM221 442h1v1h-1zM223 442h1v1h-1zM225 442h16v1h-16zM242 442h3v1h-3zM221 443h2v1h-2zM226 443h3v1h-3zM230 443h4v1h-4zM235 443h3v1h-3zM239 443h2v1h-2zM202 444h1v1h-1zM222 444h1v1h-1zM225 444h1v1h-1zM227 444h2v1h-2zM230 444h2v1h-2zM233 444h2v1h-2zM237 444h1v1h-1zM239 444h1v1h-1zM246 444h1v1h-1zM224 445h1v1h-1zM228 445h1v1h-1zM230 445h1v1h-1zM232 445h2v1h-2zM236 445h1v1h-1zM239 445h1v1h-1zM241 445h1v1h-1zM245 445h1v1h-1zM219 446h1v1h-1zM228 446h2v1h-2zM231 446h5v1h-5zM237 446h1v1h-1zM241 446h1v1h-1zM243 446h1v1h-1zM229 447h1v1h-1zM237 447h1v1h-1zM231 448h1v1h-1zM224 449h1v1h-1z" fill="#000"/>
</g>
<g filter="url(#soft)">
<path d="M324 396h1v1h-1zM368 396h1v1h-1zM383 408h1v1h-1zM321 409h1v1h-1zM328 410h1v1h-1zM338 410h1v1h-1zM322 411h1v1h-1zM333 411h1v1h-1zM331 414h1v1h-1zM335 414h1v1h-1zM329 415h1v1h-1zM392 415h1v1h-1zM325 416h1v1h-1zM331 416h1v1h-1zM339 416h1v1h-1zM326 418h1v1h-1zM330 418h1v1h-1zM338 418h1v1h-1zM340 421h1v1h-1zM342 421h1v1h-1zM317 423h1v1h-1zM318 424h1v1h-1zM340 425h1v1h-1zM345 426h1v1h-1zM310 429h1v1h-1zM324 429h1v1h-1zM328 429h1v1h-1zM334 429h1v1h-1zM342 429h1v1h-1zM316 430h1v1h-1zM327 430h1v1h-1zM331 430h1v1h-1zM333 430h2v1h-2zM336 430h1v1h-1zM340 430h1v1h-1zM308 431h1v1h-1zM315 431h1v1h-1zM323 431h1v1h-1zM340 431h1v1h-1zM344 431h1v1h-1zM378 431h1v1h-1zM307 432h1v1h-1zM344 432h1v1h-1zM346 432h1v1h-1zM340 433h2v1h-2zM344 433h2v1h-2zM313 434h1v1h-1zM342 434h1v1h-1zM354 434h1v1h-1zM305 435h1v1h-1zM314 435h1v1h-1zM344 435h1v1h-1zM351 438h1v1h-1zM304 439h1v1h-1zM306 439h1v1h-1zM312 439h1v1h-1zM347 439h1v1h-1zM351 440h1v1h-1zM307 441h1v1h-1zM349 441h1v1h-1zM313 442h1v1h-1zM358 443h1v1h-1zM317 445h1v1h-1zM339 446h1v1h-1zM384 446h1v1h-1zM315 447h1v1h-1zM342 447h1v1h-1zM336 448h1v1h-1zM341 448h1v1h-1zM330 449h1v1h-1zM333 449h1v1h-1zM335 449h1v1h-1zM366 449h1v1h-1zM332 450h2v1h-2zM335 450h1v1h-1zM348 451h1v1h-1zM345 452h1v1h-1zM368 453h1v1h-1zM346 456h1v1h-1z" fill="#555"/>
<path d="M373 393h1v1h-1zM355 394h1v1h-1zM371 401h1v1h-1zM337 407h1v1h-1zM331 410h1v1h-1zM335 415h1v1h-1zM366 418h1v1h-1zM317 419h1v1h-1zM347 423h1v1h-1zM354 425h1v1h-1zM317 426h1v1h-1zM346 426h1v1h-1zM316 428h1v1h-1zM321 429h1v1h-1zM323 430h1v1h-1zM335 430h1v1h-1zM336 431h1v1h-1zM310 432h1v1h-1zM328 432h1v1h-1zM331 432h1v1h-1zM333 432h1v1h-1zM325 433h5v1h-5zM333 433h2v1h-2zM336 433h1v1h-1zM339 433h1v1h-1zM350 433h1v1h-1zM357 433h1v1h-1zM317 434h1v1h-1zM320 434h1v1h-1zM323 434h1v1h-1zM326 434h1v1h-1zM328 434h1v1h-1zM331 434h1v1h-1zM333 434h2v1h-2zM336 434h2v1h-2zM319 435h2v1h-2zM322 435h1v1h-1zM324 435h2v1h-2zM328 435h1v1h-1zM330 435h7v1h-7zM338 435h1v1h-1zM340 435h1v1h-1zM342 435h1v1h-1zM369 435h1v1h-1zM379 435h1v1h-1zM306 436h1v1h-1zM318 436h1v1h-1zM322 436h5v1h-5zM328 436h3v1h-3zM332 436h2v1h-2zM337 436h2v1h-2zM342 436h1v1h-1zM344 436h1v1h-1zM316 437h2v1h-2zM320 437h3v1h-3zM324 437h19v1h-19zM349 437h1v1h-1zM315 438h2v1h-2zM318 438h1v1h-1zM320 438h20v1h-20zM345 438h1v1h-1zM350 438h1v1h-1zM315 439h1v1h-1zM318 439h1v1h-1zM320 439h19v1h-19zM340 439h2v1h-2zM358 439h1v1h-1zM313 440h3v1h-3zM317 440h1v1h-1zM319 440h1v1h-1zM322 440h2v1h-2zM325 440h18v1h-18zM316 441h3v1h-3zM320 441h1v1h-1zM322 441h14v1h-14zM337 441h3v1h-3zM343 441h2v1h-2zM304 442h1v1h-1zM315 442h2v1h-2zM318 442h5v1h-5zM324 442h10v1h-10zM335 442h4v1h-4zM343 442h1v1h-1zM345 442h2v1h-2zM316 443h1v1h-1zM319 443h6v1h-6zM326 443h5v1h-5zM332 443h5v1h-5zM338 443h2v1h-2zM346 443h1v1h-1zM318 444h1v1h-1zM322 444h4v1h-4zM329 444h9v1h-9zM377 444h1v1h-1zM320 445h1v1h-1zM323 445h4v1h-4zM328 445h1v1h-1zM330 445h3v1h-3zM334 445h1v1h-1zM336 445h2v1h-2zM339 445h1v1h-1zM311 446h1v1h-1zM322 446h2v1h-2zM325 446h1v1h-1zM327 446h2v1h-2zM332 446h1v1h-1zM335 446h2v1h-2zM345 446h1v1h-1zM363 446h1v1h-1zM316 447h1v1h-1zM326 447h1v1h-1zM328 447h2v1h-2zM333 448h1v1h-1zM369 449h1v1h-1zM344 450h2v1h-2zM330 452h1v1h-1zM332 452h1v1h-1zM393 454h1v1h-1zM349 455h1v1h-1zM339 457h1v1h-1z" fill="#000"/>
</g>
<g filter="url(#soft)">
<path d="M485 398h1v1h-1zM446 400h1v1h-1zM443 402h1v1h-1zM433 406h1v1h-1zM446 410h2v1h-2zM447 412h1v1h-1zM457 413h1v1h-1zM456 416h1v1h-1zM436 418h1v1h-1zM427 419h1v1h-1zM450 420h1v1h-1zM441 421h1v1h-1zM445 421h1v1h-1zM451 424h1v1h-1zM453 424h1v1h-1zM424 425h1v1h-1zM458 426h1v1h-1zM431 428h1v1h-1zM434 428h1v1h-1zM447 428h1v1h-1zM471 428h1v1h-1zM452 429h2v1h-2zM459 429h1v1h-1zM475 429h1v1h-1zM432 430h1v1h-1zM447 430h1v1h-1zM450 430h1v1h-1zM425 431h1v1h-1zM454 431h1v1h-1zM456 431h1v1h-1zM460 431h1v1h-1zM457 432h2v1h-2zM457 433h1v1h-1zM427 434h1v1h-1zM489 434h1v1h-1zM423 435h1v1h-1zM462 435h1v1h-1zM429 436h1v1h-1zM467 436h1v1h-1zM428 437h1v1h-1zM422 438h1v1h-1zM465 438h1v1h-1zM481 439h1v1h-1zM488 439h1v1h-1zM468 440h1v1h-1zM422 441h1v1h-1zM461 442h1v1h-1zM466 443h1v1h-1zM462 444h1v1h-1zM429 445h1v1h-1zM425 446h1v1h-1zM455 446h1v1h-1zM457 446h1v1h-1zM465 446h1v1h-1zM498 446h1v1h-1zM451 447h2v1h-2zM465 447h1v1h-1zM481 447h1v1h-1zM456 448h1v1h-1zM460 448h1v1h-1zM466 448h1v1h-1zM458 451h1v1h-1zM451 452h1v1h-1zM473 455h1v1h-1zM466 457h1v1h-1zM473 457h1v1h-1zM422 458h1v1h-1z" fill="#555"/>
<path d="M442 395h1v1h-1zM467 396h1v1h-1zM456 406h1v1h-1zM467 408h1v1h-1zM444 409h1v1h-1zM445 412h1v1h-1zM453 412h1v1h-1zM462 412h1v1h-1zM482 412h1v1h-1zM440 415h1v1h-1zM461 419h1v1h-1zM443 421h1v1h-1zM429 423h1v1h-1zM454 424h1v1h-1zM466 424h1v1h-1zM426 425h1v1h-1zM432 426h1v1h-1zM437 426h1v1h-1zM440 426h1v1h-1zM429 427h1v1h-1zM424 429h1v1h-1zM439 429h1v1h-1zM430 430h1v1h-1zM452 430h1v1h-1zM457 430h1v1h-1zM466 430h1v1h-1zM432 431h1v1h-1zM439 431h1v1h-1zM441 431h1v1h-1zM443 431h1v1h-1zM445 431h1v1h-1zM455 431h1v1h-1zM477 431h1v1h-1zM426 432h1v1h-1zM429 432h1v1h-1zM437 432h1v1h-1zM445 432h1v1h-1zM451 432h1v1h-1zM456 432h1v1h-1zM424 433h1v1h-1zM433 433h1v1h-1zM438 433h1v1h-1zM442 433h7v1h-7zM450 433h4v1h-4zM455 433h1v1h-1zM462 433h1v1h-1zM418 434h1v1h-1zM430 434h1v1h-1zM433 434h1v1h-1zM435 434h1v1h-1zM438 434h4v1h-4zM443 434h2v1h-2zM446 434h2v1h-2zM449 434h1v1h-1zM451 434h3v1h-3zM457 434h3v1h-3zM464 434h1v1h-1zM432 435h4v1h-4zM438 435h3v1h-3zM442 435h10v1h-10zM455 435h5v1h-5zM431 436h1v1h-1zM435 436h5v1h-5zM441 436h6v1h-6zM448 436h1v1h-1zM450 436h5v1h-5zM456 436h1v1h-1zM459 436h1v1h-1zM427 437h1v1h-1zM430 437h1v1h-1zM432 437h2v1h-2zM435 437h1v1h-1zM437 437h18v1h-18zM464 437h1v1h-1zM431 438h1v1h-1zM435 438h1v1h-1zM437 438h23v1h-23zM430 439h1v1h-1zM433 439h2v1h-2zM436 439h8v1h-8zM445 439h3v1h-3zM449 439h5v1h-5zM456 439h5v1h-5zM432 440h1v1h-1zM434 440h23v1h-23zM458 440h2v1h-2zM470 440h1v1h-1zM418 441h1v1h-1zM434 441h3v1h-3zM438 441h1v1h-1zM440 441h10v1h-10zM451 441h3v1h-3zM455 441h3v1h-3zM459 441h1v1h-1zM429 442h1v1h-1zM433 442h3v1h-3zM437 442h4v1h-4zM442 442h1v1h-1zM444 442h5v1h-5zM450 442h1v1h-1zM452 442h1v1h-1zM458 442h1v1h-1zM418 443h1v1h-1zM432 443h1v1h-1zM434 443h11v1h-11zM446 443h3v1h-3zM450 443h6v1h-6zM457 443h2v1h-2zM438 444h5v1h-5zM444 444h5v1h-5zM450 444h1v1h-1zM452 444h1v1h-1zM454 444h1v1h-1zM423 445h1v1h-1zM434 445h1v1h-1zM436 445h1v1h-1zM442 445h1v1h-1zM446 445h2v1h-2zM449 445h5v1h-5zM466 445h1v1h-1zM441 446h1v1h-1zM447 446h3v1h-3zM470 446h1v1h-1zM450 447h1v1h-1zM462 447h1v1h-1zM459 448h1v1h-1zM482 448h1v1h-1zM467 449h1v1h-1zM458 450h1v1h-1zM457 453h1v1h-1zM449 456h1v1h-1zM453 456h1v1h-1z" fill="#000"/>
</g>
<path d="M299.10 129.40H302.3M302.30 129.4V132.60M300.40 124.46H302.3M309.04 129.4V131.30M300.40 121.58H302.3M312.98 129.4V131.30M300.40 119.53H302.3M315.77 129.4V131.30M300.40 117.94H302.3M317.94 129.4V131.30M300.40 116.64H302.3M319.71 129.4V131.30M300.40 115.54H302.3M321.21 129.4V131.30M300.40 114.59H302.3M322.51 129.4V131.30M300.40 113.75H302.3M323.65 129.4V131.30M299.10 113.00H302.3M324.68 129.4V132.60M300.40 108.06H302.3M331.41 129.4V131.30M300.40 105.18H302.3M335.35 129.4V131.30M300.40 103.13H302.3M338.15 129.4V131.30M300.40 101.54H302.3M340.31 129.4V131.30M300.40 100.24H302.3M342.09 129.4V131.30M300.40 99.14H302.3M343.58 129.4V131.30M300.40 98.19H302.3M344.88 129.4V131.30M300.40 97.35H302.3M346.03 129.4V131.30M299.10 96.60H302.3M347.05 129.4V132.60M300.40 91.66H302.3M353.79 129.4V131.30M300.40 88.78H302.3M357.73 129.4V131.30M300.40 86.73H302.3M360.52 129.4V131.30M300.40 85.14H302.3M362.69 129.4V131.30M300.40 83.84H302.3M364.46 129.4V131.30M300.40 82.74H302.3M365.96 129.4V131.30M300.40 81.79H302.3M367.26 129.4V131.30M300.40 80.95H302.3M368.40 129.4V131.30M299.10 80.20H302.3M369.43 129.4V132.60M300.40 75.26H302.3M376.16 129.4V131.30M300.40 72.38H302.3M380.10 129.4V131.30M300.40 70.33H302.3M382.90 129.4V131.30M300.40 68.74H302.3M385.06 129.4V131.30M300.40 67.44H302.3M386.84 129.4V131.30M300.40 66.34H302.3M388.33 129.4V131.30M300.40 65.39H302.3M389.63 129.4V131.30M300.40 64.55H302.3M390.78 129.4V131.30M299.10 63.8H302.3M391.8 129.4V132.60" stroke="#000" stroke-width="1.0" fill="none"/>
<rect x="302.3" y="63.8" width="89.5" height="65.60000000000001" fill="none" stroke="#111" stroke-width="1.5"/>
<line x1="343.9" y1="63.8" x2="343.9" y2="129.4" stroke="#1a1a1a" stroke-width="1.4"/>
<line x1="302.3" y1="105.1" x2="391.8" y2="105.1" stroke="#1a1a1a" stroke-width="1.4"/>
<text x="297.88" y="141.6" font-size="6.7" font-weight="normal" fill="#222">10<tspan dy="-3.0" font-size="5.4">0</tspan></text>
<text x="320.25" y="141.6" font-size="6.7" font-weight="normal" fill="#222">10<tspan dy="-3.0" font-size="5.4">1</tspan></text>
<text x="342.63" y="141.6" font-size="6.7" font-weight="normal" fill="#222">10<tspan dy="-3.0" font-size="5.4">2</tspan></text>
<text x="365.00" y="141.6" font-size="6.7" font-weight="normal" fill="#222">10<tspan dy="-3.0" font-size="5.4">3</tspan></text>
<text x="387.38" y="141.6" font-size="6.7" font-weight="normal" fill="#222">10<tspan dy="-3.0" font-size="5.4">4</tspan></text>
<text transform="translate(296.00 130.40) rotate(-90)" font-size="7.6" font-weight="normal" fill="#222" text-anchor="middle">10</text>
<text transform="translate(291.70 133.00) rotate(-90)" font-size="5.6" font-weight="normal" fill="#222" text-anchor="middle">0</text>
<text transform="translate(296.00 114.00) rotate(-90)" font-size="7.6" font-weight="normal" fill="#222" text-anchor="middle">10</text>
<text transform="translate(291.70 116.60) rotate(-90)" font-size="5.6" font-weight="normal" fill="#222" text-anchor="middle">1</text>
<text transform="translate(296.00 97.60) rotate(-90)" font-size="7.6" font-weight="normal" fill="#222" text-anchor="middle">10</text>
<text transform="translate(291.70 100.20) rotate(-90)" font-size="5.6" font-weight="normal" fill="#222" text-anchor="middle">2</text>
<text transform="translate(296.00 81.20) rotate(-90)" font-size="7.6" font-weight="normal" fill="#222" text-anchor="middle">10</text>
<text transform="translate(291.70 83.80) rotate(-90)" font-size="5.6" font-weight="normal" fill="#222" text-anchor="middle">3</text>
<text transform="translate(296.00 64.80) rotate(-90)" font-size="7.6" font-weight="normal" fill="#222" text-anchor="middle">10</text>
<text transform="translate(291.70 67.40) rotate(-90)" font-size="5.6" font-weight="normal" fill="#222" text-anchor="middle">4</text>
<path d="M421.30 129.20H424.5M424.50 129.2V132.40M422.60 124.28H424.5M431.09 129.2V131.10M422.60 121.40H424.5M434.94 129.2V131.10M422.60 119.36H424.5M437.67 129.2V131.10M422.60 117.77H424.5M439.79 129.2V131.10M422.60 116.48H424.5M441.52 129.2V131.10M422.60 115.38H424.5M442.99 129.2V131.10M422.60 114.43H424.5M444.26 129.2V131.10M422.60 113.60H424.5M445.37 129.2V131.10M421.30 112.85H424.5M446.38 129.2V132.40M422.60 107.93H424.5M452.96 129.2V131.10M422.60 105.05H424.5M456.81 129.2V131.10M422.60 103.01H424.5M459.55 129.2V131.10M422.60 101.42H424.5M461.66 129.2V131.10M422.60 100.13H424.5M463.40 129.2V131.10M422.60 99.03H424.5M464.86 129.2V131.10M422.60 98.08H424.5M466.13 129.2V131.10M422.60 97.25H424.5M467.25 129.2V131.10M421.30 96.50H424.5M468.25 129.2V132.40M422.60 91.58H424.5M474.84 129.2V131.10M422.60 88.70H424.5M478.69 129.2V131.10M422.60 86.66H424.5M481.42 129.2V131.10M422.60 85.07H424.5M483.54 129.2V131.10M422.60 83.78H424.5M485.27 129.2V131.10M422.60 82.68H424.5M486.74 129.2V131.10M422.60 81.73H424.5M488.01 129.2V131.10M422.60 80.90H424.5M489.12 129.2V131.10M421.30 80.15H424.5M490.12 129.2V132.40M422.60 75.23H424.5M496.71 129.2V131.10M422.60 72.35H424.5M500.56 129.2V131.10M422.60 70.31H424.5M503.30 129.2V131.10M422.60 68.72H424.5M505.41 129.2V131.10M422.60 67.43H424.5M507.15 129.2V131.10M422.60 66.33H424.5M508.61 129.2V131.10M422.60 65.38H424.5M509.88 129.2V131.10M422.60 64.55H424.5M511.00 129.2V131.10M421.30 63.8H424.5M512 129.2V132.40" stroke="#000" stroke-width="1.0" fill="none"/>
<rect x="424.5" y="63.8" width="87.5" height="65.39999999999999" fill="none" stroke="#111" stroke-width="1.5"/>
<line x1="465.3" y1="63.8" x2="465.3" y2="129.2" stroke="#1a1a1a" stroke-width="1.4"/>
<line x1="424.5" y1="103.7" x2="512" y2="103.7" stroke="#1a1a1a" stroke-width="1.4"/>
<text x="420.08" y="141.39999999999998" font-size="6.7" font-weight="normal" fill="#222">10<tspan dy="-3.0" font-size="5.4">0</tspan></text>
<text x="441.95" y="141.39999999999998" font-size="6.7" font-weight="normal" fill="#222">10<tspan dy="-3.0" font-size="5.4">1</tspan></text>
<text x="463.83" y="141.39999999999998" font-size="6.7" font-weight="normal" fill="#222">10<tspan dy="-3.0" font-size="5.4">2</tspan></text>
<text x="485.70" y="141.39999999999998" font-size="6.7" font-weight="normal" fill="#222">10<tspan dy="-3.0" font-size="5.4">3</tspan></text>
<text x="507.58" y="141.39999999999998" font-size="6.7" font-weight="normal" fill="#222">10<tspan dy="-3.0" font-size="5.4">4</tspan></text>
<text transform="translate(418.20 130.20) rotate(-90)" font-size="7.6" font-weight="normal" fill="#222" text-anchor="middle">10</text>
<text transform="translate(413.90 132.80) rotate(-90)" font-size="5.6" font-weight="normal" fill="#222" text-anchor="middle">0</text>
<text transform="translate(418.20 113.85) rotate(-90)" font-size="7.6" font-weight="normal" fill="#222" text-anchor="middle">10</text>
<text transform="translate(413.90 116.45) rotate(-90)" font-size="5.6" font-weight="normal" fill="#222" text-anchor="middle">1</text>
<text transform="translate(418.20 97.50) rotate(-90)" font-size="7.6" font-weight="normal" fill="#222" text-anchor="middle">10</text>
<text transform="translate(413.90 100.10) rotate(-90)" font-size="5.6" font-weight="normal" fill="#222" text-anchor="middle">2</text>
<text transform="translate(418.20 81.15) rotate(-90)" font-size="7.6" font-weight="normal" fill="#222" text-anchor="middle">10</text>
<text transform="translate(413.90 83.75) rotate(-90)" font-size="5.6" font-weight="normal" fill="#222" text-anchor="middle">3</text>
<text transform="translate(418.20 64.80) rotate(-90)" font-size="7.6" font-weight="normal" fill="#222" text-anchor="middle">10</text>
<text transform="translate(413.90 67.40) rotate(-90)" font-size="5.6" font-weight="normal" fill="#222" text-anchor="middle">4</text>
<path d="M55.60 303.30H58.8M58.80 303.3V306.50M56.90 298.02H58.8M65.92 303.3V305.20M56.90 294.94H58.8M70.08 303.3V305.20M56.90 292.75H58.8M73.04 303.3V305.20M56.90 291.05H58.8M75.33 303.3V305.20M56.90 289.66H58.8M77.20 303.3V305.20M56.90 288.49H58.8M78.79 303.3V305.20M56.90 287.47H58.8M80.16 303.3V305.20M56.90 286.58H58.8M81.37 303.3V305.20M55.60 285.77H58.8M82.45 303.3V306.50M56.90 280.50H58.8M89.57 303.3V305.20M56.90 277.41H58.8M93.73 303.3V305.20M56.90 275.22H58.8M96.69 303.3V305.20M56.90 273.53H58.8M98.98 303.3V305.20M56.90 272.14H58.8M100.85 303.3V305.20M56.90 270.96H58.8M102.44 303.3V305.20M56.90 269.95H58.8M103.81 303.3V305.20M56.90 269.05H58.8M105.02 303.3V305.20M55.60 268.25H58.8M106.10 303.3V306.50M56.90 262.97H58.8M113.22 303.3V305.20M56.90 259.89H58.8M117.38 303.3V305.20M56.90 257.70H58.8M120.34 303.3V305.20M56.90 256.00H58.8M122.63 303.3V305.20M56.90 254.61H58.8M124.50 303.3V305.20M56.90 253.44H58.8M126.09 303.3V305.20M56.90 252.42H58.8M127.46 303.3V305.20M56.90 251.53H58.8M128.67 303.3V305.20M55.60 250.72H58.8M129.75 303.3V306.50M56.90 245.45H58.8M136.87 303.3V305.20M56.90 242.36H58.8M141.03 303.3V305.20M56.90 240.17H58.8M143.99 303.3V305.20M56.90 238.48H58.8M146.28 303.3V305.20M56.90 237.09H58.8M148.15 303.3V305.20M56.90 235.91H58.8M149.74 303.3V305.20M56.90 234.90H58.8M151.11 303.3V305.20M56.90 234.00H58.8M152.32 303.3V305.20M55.60 233.2H58.8M153.4 303.3V306.50" stroke="#000" stroke-width="1.0" fill="none"/>
<rect x="58.8" y="233.2" width="94.60000000000001" height="70.10000000000002" fill="none" stroke="#111" stroke-width="1.5"/>
<line x1="97.6" y1="233.2" x2="97.6" y2="303.3" stroke="#1a1a1a" stroke-width="1.4"/>
<line x1="58.8" y1="277.5" x2="153.4" y2="277.5" stroke="#1a1a1a" stroke-width="1.4"/>
<text x="53.11" y="315.3" font-size="7.9" font-weight="normal" fill="#222">10<tspan dy="-3.6" font-size="6.3">0</tspan></text>
<text x="76.76" y="315.3" font-size="7.9" font-weight="normal" fill="#222">10<tspan dy="-3.6" font-size="6.3">1</tspan></text>
<text x="100.41" y="315.3" font-size="7.9" font-weight="normal" fill="#222">10<tspan dy="-3.6" font-size="6.3">2</tspan></text>
<text x="124.06" y="315.3" font-size="7.9" font-weight="normal" fill="#222">10<tspan dy="-3.6" font-size="6.3">3</tspan></text>
<text x="147.71" y="315.3" font-size="7.9" font-weight="normal" fill="#222">10<tspan dy="-3.6" font-size="6.3">4</tspan></text>
<text transform="translate(52.80 304.80) rotate(-90)" font-size="8.0" font-weight="normal" fill="#222" text-anchor="middle">10<tspan dy="-3.6" font-size="6.4">0</tspan></text>
<text transform="translate(52.80 287.27) rotate(-90)" font-size="8.0" font-weight="normal" fill="#222" text-anchor="middle">10<tspan dy="-3.6" font-size="6.4">1</tspan></text>
<text transform="translate(52.80 269.75) rotate(-90)" font-size="8.0" font-weight="normal" fill="#222" text-anchor="middle">10<tspan dy="-3.6" font-size="6.4">2</tspan></text>
<text transform="translate(52.80 252.22) rotate(-90)" font-size="8.0" font-weight="normal" fill="#222" text-anchor="middle">10<tspan dy="-3.6" font-size="6.4">3</tspan></text>
<text transform="translate(52.80 236.20) rotate(-90)" font-size="8.0" font-weight="normal" fill="#222" text-anchor="middle">10</text>
<path d="M171.40 304.40H174.6M174.60 304.4V307.60M172.70 299.06H174.6M181.78 304.4V306.30M172.70 295.93H174.6M185.98 304.4V306.30M172.70 293.71H174.6M188.96 304.4V306.30M172.70 291.99H174.6M191.27 304.4V306.30M172.70 290.59H174.6M193.16 304.4V306.30M172.70 289.40H174.6M194.76 304.4V306.30M172.70 288.37H174.6M196.14 304.4V306.30M172.70 287.46H174.6M197.36 304.4V306.30M171.40 286.65H174.6M198.45 304.4V307.60M172.70 281.31H174.6M205.63 304.4V306.30M172.70 278.18H174.6M209.83 304.4V306.30M172.70 275.96H174.6M212.81 304.4V306.30M172.70 274.24H174.6M215.12 304.4V306.30M172.70 272.84H174.6M217.01 304.4V306.30M172.70 271.65H174.6M218.61 304.4V306.30M172.70 270.62H174.6M219.99 304.4V306.30M172.70 269.71H174.6M221.21 304.4V306.30M171.40 268.90H174.6M222.30 304.4V307.60M172.70 263.56H174.6M229.48 304.4V306.30M172.70 260.43H174.6M233.68 304.4V306.30M172.70 258.21H174.6M236.66 304.4V306.30M172.70 256.49H174.6M238.97 304.4V306.30M172.70 255.09H174.6M240.86 304.4V306.30M172.70 253.90H174.6M242.46 304.4V306.30M172.70 252.87H174.6M243.84 304.4V306.30M172.70 251.96H174.6M245.06 304.4V306.30M171.40 251.15H174.6M246.15 304.4V307.60M172.70 245.81H174.6M253.33 304.4V306.30M172.70 242.68H174.6M257.53 304.4V306.30M172.70 240.46H174.6M260.51 304.4V306.30M172.70 238.74H174.6M262.82 304.4V306.30M172.70 237.34H174.6M264.71 304.4V306.30M172.70 236.15H174.6M266.31 304.4V306.30M172.70 235.12H174.6M267.69 304.4V306.30M172.70 234.21H174.6M268.91 304.4V306.30M171.40 233.4H174.6M270 304.4V307.60" stroke="#000" stroke-width="1.0" fill="none"/>
<rect x="174.6" y="233.4" width="95.4" height="70.99999999999997" fill="none" stroke="#111" stroke-width="1.5"/>
<line x1="213.1" y1="233.4" x2="213.1" y2="304.4" stroke="#1a1a1a" stroke-width="1.4"/>
<line x1="174.6" y1="278.7" x2="270" y2="278.7" stroke="#1a1a1a" stroke-width="1.4"/>
<text x="168.91" y="316.4" font-size="7.9" font-weight="normal" fill="#222">10<tspan dy="-3.6" font-size="6.3">0</tspan></text>
<text x="192.76" y="316.4" font-size="7.9" font-weight="normal" fill="#222">10<tspan dy="-3.6" font-size="6.3">1</tspan></text>
<text x="216.61" y="316.4" font-size="7.9" font-weight="normal" fill="#222">10<tspan dy="-3.6" font-size="6.3">2</tspan></text>
<text x="240.46" y="316.4" font-size="7.9" font-weight="normal" fill="#222">10<tspan dy="-3.6" font-size="6.3">3</tspan></text>
<text x="264.31" y="316.4" font-size="7.9" font-weight="normal" fill="#222">10<tspan dy="-3.6" font-size="6.3">4</tspan></text>
<text transform="translate(168.60 305.90) rotate(-90)" font-size="8.0" font-weight="normal" fill="#222" text-anchor="middle">10<tspan dy="-3.6" font-size="6.4">0</tspan></text>
<text transform="translate(168.60 288.15) rotate(-90)" font-size="8.0" font-weight="normal" fill="#222" text-anchor="middle">10<tspan dy="-3.6" font-size="6.4">1</tspan></text>
<text transform="translate(168.60 270.40) rotate(-90)" font-size="8.0" font-weight="normal" fill="#222" text-anchor="middle">10<tspan dy="-3.6" font-size="6.4">2</tspan></text>
<text transform="translate(168.60 252.65) rotate(-90)" font-size="8.0" font-weight="normal" fill="#222" text-anchor="middle">10<tspan dy="-3.6" font-size="6.4">3</tspan></text>
<text transform="translate(168.60 236.40) rotate(-90)" font-size="8.0" font-weight="normal" fill="#222" text-anchor="middle">10</text>
<path d="M298.00 304.60H301.2M301.20 304.6V307.80M299.30 299.31H301.2M308.33 304.6V306.50M299.30 296.21H301.2M312.51 304.6V306.50M299.30 294.02H301.2M315.47 304.6V306.50M299.30 292.32H301.2M317.77 304.6V306.50M299.30 290.92H301.2M319.64 304.6V306.50M299.30 289.75H301.2M321.23 304.6V306.50M299.30 288.73H301.2M322.60 304.6V306.50M299.30 287.83H301.2M323.82 304.6V306.50M298.00 287.03H301.2M324.90 304.6V307.80M299.30 281.73H301.2M332.03 304.6V306.50M299.30 278.64H301.2M336.21 304.6V306.50M299.30 276.44H301.2M339.17 304.6V306.50M299.30 274.74H301.2M341.47 304.6V306.50M299.30 273.35H301.2M343.34 304.6V306.50M299.30 272.17H301.2M344.93 304.6V306.50M299.30 271.15H301.2M346.30 304.6V306.50M299.30 270.25H301.2M347.52 304.6V306.50M298.00 269.45H301.2M348.60 304.6V307.80M299.30 264.16H301.2M355.73 304.6V306.50M299.30 261.06H301.2M359.91 304.6V306.50M299.30 258.87H301.2M362.87 304.6V306.50M299.30 257.17H301.2M365.17 304.6V306.50M299.30 255.77H301.2M367.04 304.6V306.50M299.30 254.60H301.2M368.63 304.6V306.50M299.30 253.58H301.2M370.00 304.6V306.50M299.30 252.68H301.2M371.22 304.6V306.50M298.00 251.88H301.2M372.30 304.6V307.80M299.30 246.58H301.2M379.43 304.6V306.50M299.30 243.49H301.2M383.61 304.6V306.50M299.30 241.29H301.2M386.57 304.6V306.50M299.30 239.59H301.2M388.87 304.6V306.50M299.30 238.20H301.2M390.74 304.6V306.50M299.30 237.02H301.2M392.33 304.6V306.50M299.30 236.00H301.2M393.70 304.6V306.50M299.30 235.10H301.2M394.92 304.6V306.50M298.00 234.3H301.2M396 304.6V307.80" stroke="#000" stroke-width="1.0" fill="none"/>
<rect x="301.2" y="234.3" width="94.80000000000001" height="70.30000000000001" fill="none" stroke="#111" stroke-width="1.5"/>
<line x1="339" y1="234.3" x2="339" y2="304.6" stroke="#1a1a1a" stroke-width="1.4"/>
<line x1="301.2" y1="278.7" x2="396" y2="278.7" stroke="#1a1a1a" stroke-width="1.4"/>
<text x="295.51" y="316.6" font-size="7.9" font-weight="normal" fill="#222">10<tspan dy="-3.6" font-size="6.3">0</tspan></text>
<text x="319.21" y="316.6" font-size="7.9" font-weight="normal" fill="#222">10<tspan dy="-3.6" font-size="6.3">1</tspan></text>
<text x="342.91" y="316.6" font-size="7.9" font-weight="normal" fill="#222">10<tspan dy="-3.6" font-size="6.3">2</tspan></text>
<text x="366.61" y="316.6" font-size="7.9" font-weight="normal" fill="#222">10<tspan dy="-3.6" font-size="6.3">3</tspan></text>
<text x="390.31" y="316.6" font-size="7.9" font-weight="normal" fill="#222">10<tspan dy="-3.6" font-size="6.3">4</tspan></text>
<text transform="translate(295.20 306.10) rotate(-90)" font-size="8.0" font-weight="normal" fill="#222" text-anchor="middle">10<tspan dy="-3.6" font-size="6.4">0</tspan></text>
<text transform="translate(295.20 288.53) rotate(-90)" font-size="8.0" font-weight="normal" fill="#222" text-anchor="middle">10<tspan dy="-3.6" font-size="6.4">1</tspan></text>
<text transform="translate(295.20 270.95) rotate(-90)" font-size="8.0" font-weight="normal" fill="#222" text-anchor="middle">10<tspan dy="-3.6" font-size="6.4">2</tspan></text>
<text transform="translate(295.20 253.38) rotate(-90)" font-size="8.0" font-weight="normal" fill="#222" text-anchor="middle">10<tspan dy="-3.6" font-size="6.4">3</tspan></text>
<text transform="translate(295.20 237.30) rotate(-90)" font-size="8.0" font-weight="normal" fill="#222" text-anchor="middle">10</text>
<path d="M414.60 304.00H417.8M417.80 304.0V307.20M415.90 298.77H417.8M424.90 304.0V305.90M415.90 295.71H417.8M429.06 304.0V305.90M415.90 293.54H417.8M432.01 304.0V305.90M415.90 291.86H417.8M434.30 304.0V305.90M415.90 290.48H417.8M436.16 304.0V305.90M415.90 289.32H417.8M437.74 304.0V305.90M415.90 288.31H417.8M439.11 304.0V305.90M415.90 287.42H417.8M440.32 304.0V305.90M414.60 286.62H417.8M441.40 304.0V307.20M415.90 281.39H417.8M448.50 304.0V305.90M415.90 278.34H417.8M452.66 304.0V305.90M415.90 276.16H417.8M455.61 304.0V305.90M415.90 274.48H417.8M457.90 304.0V305.90M415.90 273.10H417.8M459.76 304.0V305.90M415.90 271.94H417.8M461.34 304.0V305.90M415.90 270.93H417.8M462.71 304.0V305.90M415.90 270.05H417.8M463.92 304.0V305.90M414.60 269.25H417.8M465.00 304.0V307.20M415.90 264.02H417.8M472.10 304.0V305.90M415.90 260.96H417.8M476.26 304.0V305.90M415.90 258.79H417.8M479.21 304.0V305.90M415.90 257.11H417.8M481.50 304.0V305.90M415.90 255.73H417.8M483.36 304.0V305.90M415.90 254.57H417.8M484.94 304.0V305.90M415.90 253.56H417.8M486.31 304.0V305.90M415.90 252.67H417.8M487.52 304.0V305.90M414.60 251.88H417.8M488.60 304.0V307.20M415.90 246.64H417.8M495.70 304.0V305.90M415.90 243.59H417.8M499.86 304.0V305.90M415.90 241.41H417.8M502.81 304.0V305.90M415.90 239.73H417.8M505.10 304.0V305.90M415.90 238.35H417.8M506.96 304.0V305.90M415.90 237.19H417.8M508.54 304.0V305.90M415.90 236.18H417.8M509.91 304.0V305.90M415.90 235.30H417.8M511.12 304.0V305.90M414.60 234.5H417.8M512.2 304.0V307.20" stroke="#000" stroke-width="1.0" fill="none"/>
<rect x="417.8" y="234.5" width="94.40000000000003" height="69.5" fill="none" stroke="#111" stroke-width="1.5"/>
<line x1="456.1" y1="234.5" x2="456.1" y2="304.0" stroke="#1a1a1a" stroke-width="1.4"/>
<line x1="417.8" y1="278.2" x2="512.2" y2="278.2" stroke="#1a1a1a" stroke-width="1.4"/>
<text x="412.11" y="316.0" font-size="7.9" font-weight="normal" fill="#222">10<tspan dy="-3.6" font-size="6.3">0</tspan></text>
<text x="435.71" y="316.0" font-size="7.9" font-weight="normal" fill="#222">10<tspan dy="-3.6" font-size="6.3">1</tspan></text>
<text x="459.31" y="316.0" font-size="7.9" font-weight="normal" fill="#222">10<tspan dy="-3.6" font-size="6.3">2</tspan></text>
<text x="482.91" y="316.0" font-size="7.9" font-weight="normal" fill="#222">10<tspan dy="-3.6" font-size="6.3">3</tspan></text>
<text x="506.51" y="316.0" font-size="7.9" font-weight="normal" fill="#222">10<tspan dy="-3.6" font-size="6.3">4</tspan></text>
<text transform="translate(411.80 305.50) rotate(-90)" font-size="8.0" font-weight="normal" fill="#222" text-anchor="middle">10<tspan dy="-3.6" font-size="6.4">0</tspan></text>
<text transform="translate(411.80 288.12) rotate(-90)" font-size="8.0" font-weight="normal" fill="#222" text-anchor="middle">10<tspan dy="-3.6" font-size="6.4">1</tspan></text>
<text transform="translate(411.80 270.75) rotate(-90)" font-size="8.0" font-weight="normal" fill="#222" text-anchor="middle">10<tspan dy="-3.6" font-size="6.4">2</tspan></text>
<text transform="translate(411.80 253.38) rotate(-90)" font-size="8.0" font-weight="normal" fill="#222" text-anchor="middle">10<tspan dy="-3.6" font-size="6.4">3</tspan></text>
<text transform="translate(411.80 237.50) rotate(-90)" font-size="8.0" font-weight="normal" fill="#222" text-anchor="middle">10</text>
<path d="M56.40 459.60H59.6M59.60 459.6V462.80M57.70 454.14H59.6M66.93 459.6V461.50M57.70 450.94H59.6M71.22 459.6V461.50M57.70 448.67H59.6M74.26 459.6V461.50M57.70 446.91H59.6M76.62 459.6V461.50M57.70 445.48H59.6M78.55 459.6V461.50M57.70 444.26H59.6M80.18 459.6V461.50M57.70 443.21H59.6M81.59 459.6V461.50M57.70 442.28H59.6M82.84 459.6V461.50M56.40 441.45H59.6M83.95 459.6V462.80M57.70 435.99H59.6M91.28 459.6V461.50M57.70 432.79H59.6M95.57 459.6V461.50M57.70 430.52H59.6M98.61 459.6V461.50M57.70 428.76H59.6M100.97 459.6V461.50M57.70 427.33H59.6M102.90 459.6V461.50M57.70 426.11H59.6M104.53 459.6V461.50M57.70 425.06H59.6M105.94 459.6V461.50M57.70 424.13H59.6M107.19 459.6V461.50M56.40 423.30H59.6M108.30 459.6V462.80M57.70 417.84H59.6M115.63 459.6V461.50M57.70 414.64H59.6M119.92 459.6V461.50M57.70 412.37H59.6M122.96 459.6V461.50M57.70 410.61H59.6M125.32 459.6V461.50M57.70 409.18H59.6M127.25 459.6V461.50M57.70 407.96H59.6M128.88 459.6V461.50M57.70 406.91H59.6M130.29 459.6V461.50M57.70 405.98H59.6M131.54 459.6V461.50M56.40 405.15H59.6M132.65 459.6V462.80M57.70 399.69H59.6M139.98 459.6V461.50M57.70 396.49H59.6M144.27 459.6V461.50M57.70 394.22H59.6M147.31 459.6V461.50M57.70 392.46H59.6M149.67 459.6V461.50M57.70 391.03H59.6M151.60 459.6V461.50M57.70 389.81H59.6M153.23 459.6V461.50M57.70 388.76H59.6M154.64 459.6V461.50M57.70 387.83H59.6M155.89 459.6V461.50M56.40 387.0H59.6M157 459.6V462.80" stroke="#000" stroke-width="1.0" fill="none"/>
<rect x="59.6" y="387.0" width="97.4" height="72.60000000000002" fill="none" stroke="#111" stroke-width="1.5"/>
<line x1="103.3" y1="387.0" x2="103.3" y2="459.6" stroke="#1a1a1a" stroke-width="1.4"/>
<line x1="59.6" y1="420.8" x2="157" y2="420.8" stroke="#1a1a1a" stroke-width="1.4"/>
<text x="54.86" y="473.20000000000005" font-size="7.9" font-weight="normal" fill="#222">10<tspan dy="-3.6" font-size="6.3">0</tspan></text>
<text x="79.21" y="473.20000000000005" font-size="7.9" font-weight="normal" fill="#222">10<tspan dy="-3.6" font-size="6.3">1</tspan></text>
<text x="103.56" y="473.20000000000005" font-size="7.9" font-weight="normal" fill="#222">10<tspan dy="-3.6" font-size="6.3">2</tspan></text>
<text x="127.91" y="473.20000000000005" font-size="7.9" font-weight="normal" fill="#222">10<tspan dy="-3.6" font-size="6.3">3</tspan></text>
<text x="152.26" y="473.20000000000005" font-size="7.9" font-weight="normal" fill="#222">10<tspan dy="-3.6" font-size="6.3">4</tspan></text>
<text transform="translate(53.00 460.60) rotate(-90)" font-size="8.0" font-weight="normal" fill="#222" text-anchor="middle">10</text>
<text transform="translate(48.40 463.20) rotate(-90)" font-size="6.0" font-weight="normal" fill="#222" text-anchor="middle">0</text>
<text transform="translate(53.00 442.45) rotate(-90)" font-size="8.0" font-weight="normal" fill="#222" text-anchor="middle">10</text>
<text transform="translate(48.40 445.05) rotate(-90)" font-size="6.0" font-weight="normal" fill="#222" text-anchor="middle">1</text>
<text transform="translate(53.00 424.30) rotate(-90)" font-size="8.0" font-weight="normal" fill="#222" text-anchor="middle">10</text>
<text transform="translate(48.40 426.90) rotate(-90)" font-size="6.0" font-weight="normal" fill="#222" text-anchor="middle">2</text>
<text transform="translate(53.00 406.15) rotate(-90)" font-size="8.0" font-weight="normal" fill="#222" text-anchor="middle">10</text>
<text transform="translate(48.40 408.75) rotate(-90)" font-size="6.0" font-weight="normal" fill="#222" text-anchor="middle">3</text>
<text transform="translate(53.00 388.00) rotate(-90)" font-size="8.0" font-weight="normal" fill="#222" text-anchor="middle">10</text>
<text transform="translate(48.40 390.60) rotate(-90)" font-size="6.0" font-weight="normal" fill="#222" text-anchor="middle">4</text>
<path d="M171.00 460.30H174.2M174.20 460.3V463.50M172.30 454.80H174.2M181.43 460.3V462.20M172.30 451.58H174.2M185.66 460.3V462.20M172.30 449.30H174.2M188.66 460.3V462.20M172.30 447.53H174.2M190.99 460.3V462.20M172.30 446.08H174.2M192.90 460.3V462.20M172.30 444.86H174.2M194.50 460.3V462.20M172.30 443.80H174.2M195.90 460.3V462.20M172.30 442.86H174.2M197.13 460.3V462.20M171.00 442.02H174.2M198.22 460.3V463.50M172.30 436.52H174.2M205.46 460.3V462.20M172.30 433.31H174.2M209.69 460.3V462.20M172.30 431.02H174.2M212.69 460.3V462.20M172.30 429.25H174.2M215.02 460.3V462.20M172.30 427.80H174.2M216.92 460.3V462.20M172.30 426.58H174.2M218.53 460.3V462.20M172.30 425.52H174.2M219.92 460.3V462.20M172.30 424.59H174.2M221.15 460.3V462.20M171.00 423.75H174.2M222.25 460.3V463.50M172.30 418.25H174.2M229.48 460.3V462.20M172.30 415.03H174.2M233.71 460.3V462.20M172.30 412.75H174.2M236.71 460.3V462.20M172.30 410.98H174.2M239.04 460.3V462.20M172.30 409.53H174.2M240.95 460.3V462.20M172.30 408.31H174.2M242.55 460.3V462.20M172.30 407.25H174.2M243.95 460.3V462.20M172.30 406.31H174.2M245.18 460.3V462.20M171.00 405.48H174.2M246.28 460.3V463.50M172.30 399.97H174.2M253.51 460.3V462.20M172.30 396.76H174.2M257.74 460.3V462.20M172.30 394.47H174.2M260.74 460.3V462.20M172.30 392.70H174.2M263.07 460.3V462.20M172.30 391.25H174.2M264.97 460.3V462.20M172.30 390.03H174.2M266.58 460.3V462.20M172.30 388.97H174.2M267.97 460.3V462.20M172.30 388.04H174.2M269.20 460.3V462.20M171.00 387.2H174.2M270.3 460.3V463.50" stroke="#000" stroke-width="1.0" fill="none"/>
<rect x="174.2" y="387.2" width="96.10000000000002" height="73.10000000000002" fill="none" stroke="#111" stroke-width="1.5"/>
<line x1="217.2" y1="387.2" x2="217.2" y2="460.3" stroke="#1a1a1a" stroke-width="1.4"/>
<line x1="174.2" y1="421.0" x2="270.3" y2="421.0" stroke="#1a1a1a" stroke-width="1.4"/>
<text x="169.46" y="473.90000000000003" font-size="7.9" font-weight="normal" fill="#222">10<tspan dy="-3.6" font-size="6.3">0</tspan></text>
<text x="193.48" y="473.90000000000003" font-size="7.9" font-weight="normal" fill="#222">10<tspan dy="-3.6" font-size="6.3">1</tspan></text>
<text x="217.51" y="473.90000000000003" font-size="7.9" font-weight="normal" fill="#222">10<tspan dy="-3.6" font-size="6.3">2</tspan></text>
<text x="241.53" y="473.90000000000003" font-size="7.9" font-weight="normal" fill="#222">10<tspan dy="-3.6" font-size="6.3">3</tspan></text>
<text x="265.56" y="473.90000000000003" font-size="7.9" font-weight="normal" fill="#222">10<tspan dy="-3.6" font-size="6.3">4</tspan></text>
<text transform="translate(167.60 461.30) rotate(-90)" font-size="8.0" font-weight="normal" fill="#222" text-anchor="middle">10</text>
<text transform="translate(163.00 463.90) rotate(-90)" font-size="6.0" font-weight="normal" fill="#222" text-anchor="middle">0</text>
<text transform="translate(167.60 443.02) rotate(-90)" font-size="8.0" font-weight="normal" fill="#222" text-anchor="middle">10</text>
<text transform="translate(163.00 445.62) rotate(-90)" font-size="6.0" font-weight="normal" fill="#222" text-anchor="middle">1</text>
<text transform="translate(167.60 424.75) rotate(-90)" font-size="8.0" font-weight="normal" fill="#222" text-anchor="middle">10</text>
<text transform="translate(163.00 427.35) rotate(-90)" font-size="6.0" font-weight="normal" fill="#222" text-anchor="middle">2</text>
<text transform="translate(167.60 406.48) rotate(-90)" font-size="8.0" font-weight="normal" fill="#222" text-anchor="middle">10</text>
<text transform="translate(163.00 409.08) rotate(-90)" font-size="6.0" font-weight="normal" fill="#222" text-anchor="middle">3</text>
<text transform="translate(167.60 388.20) rotate(-90)" font-size="8.0" font-weight="normal" fill="#222" text-anchor="middle">10</text>
<text transform="translate(163.00 390.80) rotate(-90)" font-size="6.0" font-weight="normal" fill="#222" text-anchor="middle">4</text>
<path d="M297.60 461.00H300.8M300.80 461V464.20M298.90 455.42H300.8M307.96 461V462.90M298.90 452.16H300.8M312.16 461V462.90M298.90 449.85H300.8M315.13 461V462.90M298.90 448.05H300.8M317.44 461V462.90M298.90 446.58H300.8M319.32 461V462.90M298.90 445.34H300.8M320.91 461V462.90M298.90 444.27H300.8M322.29 461V462.90M298.90 443.32H300.8M323.51 461V462.90M297.60 442.48H300.8M324.60 461V464.20M298.90 436.90H300.8M331.76 461V462.90M298.90 433.64H300.8M335.96 461V462.90M298.90 431.32H300.8M338.93 461V462.90M298.90 429.53H300.8M341.24 461V462.90M298.90 428.06H300.8M343.12 461V462.90M298.90 426.82H300.8M344.71 461V462.90M298.90 425.75H300.8M346.09 461V462.90M298.90 424.80H300.8M347.31 461V462.90M297.60 423.95H300.8M348.40 461V464.20M298.90 418.37H300.8M355.56 461V462.90M298.90 415.11H300.8M359.76 461V462.90M298.90 412.80H300.8M362.73 461V462.90M298.90 411.00H300.8M365.04 461V462.90M298.90 409.53H300.8M366.92 461V462.90M298.90 408.29H300.8M368.51 461V462.90M298.90 407.22H300.8M369.89 461V462.90M298.90 406.27H300.8M371.11 461V462.90M297.60 405.42H300.8M372.20 461V464.20M298.90 399.85H300.8M379.36 461V462.90M298.90 396.59H300.8M383.56 461V462.90M298.90 394.27H300.8M386.53 461V462.90M298.90 392.48H300.8M388.84 461V462.90M298.90 391.01H300.8M390.72 461V462.90M298.90 389.77H300.8M392.31 461V462.90M298.90 388.70H300.8M393.69 461V462.90M298.90 387.75H300.8M394.91 461V462.90M297.60 386.9H300.8M396 461V464.20" stroke="#000" stroke-width="1.0" fill="none"/>
<rect x="300.8" y="386.9" width="95.19999999999999" height="74.10000000000002" fill="none" stroke="#111" stroke-width="1.5"/>
<line x1="342.8" y1="386.9" x2="342.8" y2="461" stroke="#1a1a1a" stroke-width="1.4"/>
<line x1="300.8" y1="421.8" x2="396" y2="421.8" stroke="#1a1a1a" stroke-width="1.4"/>
<text x="296.06" y="474.6" font-size="7.9" font-weight="normal" fill="#222">10<tspan dy="-3.6" font-size="6.3">0</tspan></text>
<text x="319.86" y="474.6" font-size="7.9" font-weight="normal" fill="#222">10<tspan dy="-3.6" font-size="6.3">1</tspan></text>
<text x="343.66" y="474.6" font-size="7.9" font-weight="normal" fill="#222">10<tspan dy="-3.6" font-size="6.3">2</tspan></text>
<text x="367.46" y="474.6" font-size="7.9" font-weight="normal" fill="#222">10<tspan dy="-3.6" font-size="6.3">3</tspan></text>
<text x="391.26" y="474.6" font-size="7.9" font-weight="normal" fill="#222">10<tspan dy="-3.6" font-size="6.3">4</tspan></text>
<text transform="translate(294.20 462.00) rotate(-90)" font-size="8.0" font-weight="normal" fill="#222" text-anchor="middle">10</text>
<text transform="translate(289.60 464.60) rotate(-90)" font-size="6.0" font-weight="normal" fill="#222" text-anchor="middle">0</text>
<text transform="translate(294.20 443.48) rotate(-90)" font-size="8.0" font-weight="normal" fill="#222" text-anchor="middle">10</text>
<text transform="translate(289.60 446.08) rotate(-90)" font-size="6.0" font-weight="normal" fill="#222" text-anchor="middle">1</text>
<text transform="translate(294.20 424.95) rotate(-90)" font-size="8.0" font-weight="normal" fill="#222" text-anchor="middle">10</text>
<text transform="translate(289.60 427.55) rotate(-90)" font-size="6.0" font-weight="normal" fill="#222" text-anchor="middle">2</text>
<text transform="translate(294.20 406.42) rotate(-90)" font-size="8.0" font-weight="normal" fill="#222" text-anchor="middle">10</text>
<text transform="translate(289.60 409.02) rotate(-90)" font-size="6.0" font-weight="normal" fill="#222" text-anchor="middle">3</text>
<text transform="translate(294.20 387.90) rotate(-90)" font-size="8.0" font-weight="normal" fill="#222" text-anchor="middle">10</text>
<text transform="translate(289.60 390.50) rotate(-90)" font-size="6.0" font-weight="normal" fill="#222" text-anchor="middle">4</text>
<path d="M414.10 460.80H417.3M417.30 460.8V464.00M415.40 455.24H417.3M424.51 460.8V462.70M415.40 451.99H417.3M428.73 460.8V462.70M415.40 449.68H417.3M431.72 460.8V462.70M415.40 447.89H417.3M434.04 460.8V462.70M415.40 446.42H417.3M435.94 460.8V462.70M415.40 445.19H417.3M437.54 460.8V462.70M415.40 444.12H417.3M438.93 460.8V462.70M415.40 443.17H417.3M440.15 460.8V462.70M414.10 442.32H417.3M441.25 460.8V464.00M415.40 436.76H417.3M448.46 460.8V462.70M415.40 433.51H417.3M452.68 460.8V462.70M415.40 431.20H417.3M455.67 460.8V462.70M415.40 429.41H417.3M457.99 460.8V462.70M415.40 427.95H417.3M459.89 460.8V462.70M415.40 426.71H417.3M461.49 460.8V462.70M415.40 425.64H417.3M462.88 460.8V462.70M415.40 424.70H417.3M464.10 460.8V462.70M414.10 423.85H417.3M465.20 460.8V464.00M415.40 418.29H417.3M472.41 460.8V462.70M415.40 415.04H417.3M476.63 460.8V462.70M415.40 412.73H417.3M479.62 460.8V462.70M415.40 410.94H417.3M481.94 460.8V462.70M415.40 409.47H417.3M483.84 460.8V462.70M415.40 408.24H417.3M485.44 460.8V462.70M415.40 407.17H417.3M486.83 460.8V462.70M415.40 406.22H417.3M488.05 460.8V462.70M414.10 405.38H417.3M489.15 460.8V464.00M415.40 399.81H417.3M496.36 460.8V462.70M415.40 396.56H417.3M500.58 460.8V462.70M415.40 394.25H417.3M503.57 460.8V462.70M415.40 392.46H417.3M505.89 460.8V462.70M415.40 391.00H417.3M507.79 460.8V462.70M415.40 389.76H417.3M509.39 460.8V462.70M415.40 388.69H417.3M510.78 460.8V462.70M415.40 387.75H417.3M512.00 460.8V462.70M414.10 386.9H417.3M513.1 460.8V464.00" stroke="#000" stroke-width="1.0" fill="none"/>
<rect x="417.3" y="386.9" width="95.80000000000001" height="73.90000000000003" fill="none" stroke="#111" stroke-width="1.5"/>
<line x1="459.9" y1="386.9" x2="459.9" y2="460.8" stroke="#1a1a1a" stroke-width="1.4"/>
<line x1="417.3" y1="421.9" x2="513.1" y2="421.9" stroke="#1a1a1a" stroke-width="1.4"/>
<text x="412.56" y="474.40000000000003" font-size="7.9" font-weight="normal" fill="#222">10<tspan dy="-3.6" font-size="6.3">0</tspan></text>
<text x="436.51" y="474.40000000000003" font-size="7.9" font-weight="normal" fill="#222">10<tspan dy="-3.6" font-size="6.3">1</tspan></text>
<text x="460.46" y="474.40000000000003" font-size="7.9" font-weight="normal" fill="#222">10<tspan dy="-3.6" font-size="6.3">2</tspan></text>
<text x="484.41" y="474.40000000000003" font-size="7.9" font-weight="normal" fill="#222">10<tspan dy="-3.6" font-size="6.3">3</tspan></text>
<text x="508.36" y="474.40000000000003" font-size="7.9" font-weight="normal" fill="#222">10<tspan dy="-3.6" font-size="6.3">4</tspan></text>
<text transform="translate(410.70 461.80) rotate(-90)" font-size="8.0" font-weight="normal" fill="#222" text-anchor="middle">10</text>
<text transform="translate(406.10 464.40) rotate(-90)" font-size="6.0" font-weight="normal" fill="#222" text-anchor="middle">0</text>
<text transform="translate(410.70 443.32) rotate(-90)" font-size="8.0" font-weight="normal" fill="#222" text-anchor="middle">10</text>
<text transform="translate(406.10 445.93) rotate(-90)" font-size="6.0" font-weight="normal" fill="#222" text-anchor="middle">1</text>
<text transform="translate(410.70 424.85) rotate(-90)" font-size="8.0" font-weight="normal" fill="#222" text-anchor="middle">10</text>
<text transform="translate(406.10 427.45) rotate(-90)" font-size="6.0" font-weight="normal" fill="#222" text-anchor="middle">2</text>
<text transform="translate(410.70 406.38) rotate(-90)" font-size="8.0" font-weight="normal" fill="#222" text-anchor="middle">10</text>
<text transform="translate(406.10 408.98) rotate(-90)" font-size="6.0" font-weight="normal" fill="#222" text-anchor="middle">3</text>
<text transform="translate(410.70 387.90) rotate(-90)" font-size="8.0" font-weight="normal" fill="#222" text-anchor="middle">10</text>
<text transform="translate(406.10 390.50) rotate(-90)" font-size="6.0" font-weight="normal" fill="#222" text-anchor="middle">4</text>
<text x="336.28" y="52.9" font-size="15.6" font-weight="bold" textLength="30.85" lengthAdjust="spacing">H60</text>
<circle cx="375.4" cy="50.0" r="3.3" fill="none" stroke="#2a2a2a" stroke-width="1.0"/>
<path d="M376.92 47.07L379.8 41.5M375.99 43.09L379.8 41.5L380.70 45.53" fill="none" stroke="#2a2a2a" stroke-width="1.0"/>
<text x="446.78" y="54.0" font-size="15.6" font-weight="bold" textLength="30.35" lengthAdjust="spacing">H60</text>
<circle cx="487.1" cy="45.6" r="3.4" fill="none" stroke="#2a2a2a" stroke-width="1.0"/>
<path d="M487.1 49.0L487.1 55.3M483.70000000000005 51.8L490.5 51.8" fill="none" stroke="#2a2a2a" stroke-width="1.0"/>
<text transform="translate(284.2 132.22) rotate(-90)" font-size="13" font-weight="bold" textLength="69.94" lengthAdjust="spacingAndGlyphs">H60-Tet-PE</text>
<text x="375.52" y="154.8" font-size="12" font-weight="bold" textLength="76.26" lengthAdjust="spacing">CD11a-FITC</text>
<text x="309.06" y="77.6" font-size="11" font-weight="bold" textLength="16.48" lengthAdjust="spacing">0.0</text>
<text x="372.06" y="77.0" font-size="11" font-weight="bold" textLength="16.08" lengthAdjust="spacing">9.3</text>
<text x="309.06" y="126.5" font-size="11" font-weight="bold" textLength="16.48" lengthAdjust="spacing">0.5</text>
<text x="364.76" y="126.5" font-size="11" font-weight="bold" textLength="22.78" lengthAdjust="spacing">90.2</text>
<text x="427.36" y="77.6" font-size="11" font-weight="bold" textLength="16.58" lengthAdjust="spacing">0.1</text>
<text x="491.26" y="77.6" font-size="11" font-weight="bold" textLength="16.58" lengthAdjust="spacing">0.5</text>
<text x="428.36" y="126.3" font-size="11" font-weight="bold" textLength="16.48" lengthAdjust="spacing">0.8</text>
<text x="485.86" y="126.3" font-size="11" font-weight="bold" textLength="23.58" lengthAdjust="spacing">98.6</text>
<text x="0.72" y="216.9" font-size="22" font-weight="bold" textLength="15.36" lengthAdjust="spacing">B</text>
<text x="143.38" y="216.9" font-size="15.6" font-weight="bold" textLength="30.05" lengthAdjust="spacing">H60</text>
<circle cx="182.0" cy="213.8" r="3.2" fill="none" stroke="#2a2a2a" stroke-width="1.0"/>
<path d="M183.92 211.24L187.4 206.6M183.50 207.51L187.4 206.6L187.62 210.59" fill="none" stroke="#2a2a2a" stroke-width="1.0"/>
<text x="389.68" y="215.9" font-size="15.6" font-weight="bold" textLength="30.35" lengthAdjust="spacing">H60</text>
<circle cx="430" cy="208.0" r="3.3" fill="none" stroke="#2a2a2a" stroke-width="1.0"/>
<path d="M430 211.3L430 217.6M426.7 213.8L433.3 213.8" fill="none" stroke="#2a2a2a" stroke-width="1.0"/>
<text x="88.52" y="229.6" font-size="14.6" font-weight="bold" textLength="27.67" lengthAdjust="spacing">H60</text>
<text x="208.22" y="230.0" font-size="14.6" font-weight="bold" textLength="30.87" lengthAdjust="spacing">VSV</text>
<text x="338.12" y="230.0" font-size="14.6" font-weight="bold" textLength="27.57" lengthAdjust="spacing">H60</text>
<text x="458.42" y="230.0" font-size="14.6" font-weight="bold" textLength="29.77" lengthAdjust="spacing">VSV</text>
<text transform="translate(37.4 298.08) rotate(-90)" font-size="12" font-weight="bold" textLength="59.96" lengthAdjust="spacingAndGlyphs">IFN-g-APC</text>
<text x="125.70" y="333.0" font-size="12.5" font-weight="bold" textLength="58.20" lengthAdjust="spacing">CD8-FITC</text>
<text x="382.10" y="332.2" font-size="12.5" font-weight="bold" textLength="58.00" lengthAdjust="spacing">CD8-FITC</text>
<text x="120.66" y="248.8" font-size="11" font-weight="bold" textLength="26.08" lengthAdjust="spacing">4.0%</text>
<text x="238.96" y="248.8" font-size="11" font-weight="bold" textLength="26.08" lengthAdjust="spacing">1.2%</text>
<text x="365.56" y="249.5" font-size="11" font-weight="bold" textLength="26.18" lengthAdjust="spacing">0.8%</text>
<text x="480.76" y="249.5" font-size="11" font-weight="bold" textLength="26.28" lengthAdjust="spacing">0.7%</text>
<text x="2.32" y="370.4" font-size="22" font-weight="bold" textLength="15.66" lengthAdjust="spacing">C</text>
<text x="143.08" y="368.9" font-size="15.6" font-weight="bold" textLength="29.85" lengthAdjust="spacing">H60</text>
<circle cx="181.3" cy="366.0" r="3.2" fill="none" stroke="#2a2a2a" stroke-width="1.0"/>
<path d="M183.13 363.38L186.6 358.4M182.74 359.44L186.6 358.4L186.96 362.38" fill="none" stroke="#2a2a2a" stroke-width="1.0"/>
<text x="389.68" y="367.5" font-size="15.6" font-weight="bold" textLength="30.05" lengthAdjust="spacing">H60</text>
<circle cx="430.3" cy="360.2" r="3.3" fill="none" stroke="#2a2a2a" stroke-width="1.0"/>
<path d="M430.3 363.5L430.3 369.8M427.0 365.7L433.6 365.7" fill="none" stroke="#2a2a2a" stroke-width="1.0"/>
<text x="87.42" y="384.2" font-size="14.6" font-weight="bold" textLength="28.37" lengthAdjust="spacing">H60</text>
<text x="207.92" y="384.0" font-size="14.6" font-weight="bold" textLength="30.87" lengthAdjust="spacing">VSV</text>
<text x="336.62" y="382.8" font-size="14.6" font-weight="bold" textLength="28.37" lengthAdjust="spacing">H60</text>
<text x="457.12" y="383.2" font-size="14.6" font-weight="bold" textLength="31.37" lengthAdjust="spacing">VSV</text>
<text transform="translate(36.8 458.20) rotate(-90)" font-size="12.5" font-weight="bold" textLength="63.20" lengthAdjust="spacingAndGlyphs">IFN-g-FITC</text>
<text x="126.80" y="492.8" font-size="12.5" font-weight="bold" textLength="66.80" lengthAdjust="spacing">H60-Tet-PE</text>
<text x="377.50" y="492.8" font-size="12.5" font-weight="bold" textLength="66.10" lengthAdjust="spacing">H60-Tet-PE</text>
<text x="63.98" y="398.9" font-size="10.5" font-weight="bold" textLength="22.34" lengthAdjust="spacing">17.5</text>
<text x="131.78" y="398.9" font-size="10.5" font-weight="bold" textLength="22.94" lengthAdjust="spacing">59.2</text>
<text x="64.58" y="456.8" font-size="10.5" font-weight="bold" textLength="23.04" lengthAdjust="spacing">20.6</text>
<text x="135.18" y="456.8" font-size="10.5" font-weight="bold" textLength="16.44" lengthAdjust="spacing">2.7</text>
<text x="179.78" y="400.0" font-size="10.5" font-weight="bold" textLength="16.54" lengthAdjust="spacing">7.8</text>
<text x="249.38" y="400.0" font-size="10.5" font-weight="bold" textLength="16.24" lengthAdjust="spacing">0.4</text>
<text x="178.58" y="455.6" font-size="10.5" font-weight="bold" textLength="23.24" lengthAdjust="spacing">18.1</text>
<text x="243.58" y="456.8" font-size="10.5" font-weight="bold" textLength="23.24" lengthAdjust="spacing">73.7</text>
<text x="305.88" y="399.5" font-size="10.5" font-weight="bold" textLength="17.44" lengthAdjust="spacing">3.6</text>
<text x="375.18" y="399.5" font-size="10.5" font-weight="bold" textLength="16.24" lengthAdjust="spacing">1.0</text>
<text x="304.78" y="456.9" font-size="10.5" font-weight="bold" textLength="23.14" lengthAdjust="spacing">87.0</text>
<text x="373.98" y="456.9" font-size="10.5" font-weight="bold" textLength="16.94" lengthAdjust="spacing">8.4</text>
<text x="423.58" y="399.5" font-size="10.5" font-weight="bold" textLength="16.24" lengthAdjust="spacing">3.1</text>
<text x="490.58" y="399.5" font-size="10.5" font-weight="bold" textLength="16.64" lengthAdjust="spacing">0.4</text>
<text x="423.58" y="456.8" font-size="10.5" font-weight="bold" textLength="23.24" lengthAdjust="spacing">88.9</text>
<text x="490.58" y="456.8" font-size="10.5" font-weight="bold" textLength="16.64" lengthAdjust="spacing">7.6</text>
</g>
</svg></body></html>
